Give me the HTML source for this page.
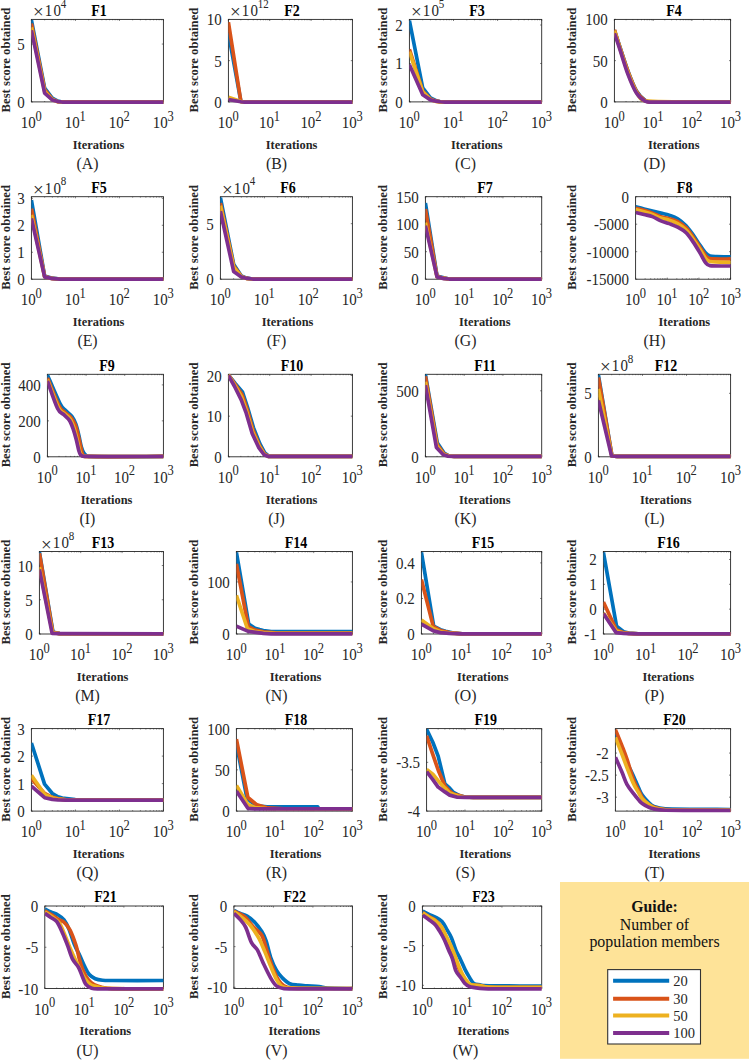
<!DOCTYPE html>
<html><head><meta charset="utf-8"><style>
html,body{margin:0;padding:0;background:#fff;width:749px;height:1060px;overflow:hidden}
svg{display:block}
text{font-family:"Liberation Serif",serif}
.tk{font-size:15px;fill:#262626}
.sup{font-size:12.5px;fill:#262626}
.tx{font-size:19px;fill:#262626}
.sup2{font-size:11px;fill:#262626}
.ttl{font-size:14px;font-weight:bold;fill:#000}
.xl{font-size:12.4px;font-weight:bold;fill:#262626}
.yl{font-size:12.7px;font-weight:bold;fill:#262626}
.pl{font-size:15.8px;fill:#262626}
.gt{font-size:15.8px;font-weight:bold;fill:#111}
.gs{font-size:15.9px;fill:#111}
.lg{font-size:14.5px;fill:#262626}
</style></head><body>
<svg width="749" height="1060" viewBox="0 0 749 1060">
<rect width="749" height="1060" fill="#fff"/>
<g>
<clipPath id="c0"><rect x="31.40" y="16.40" width="132.50" height="88.50"/></clipPath>
<path d="M31.40,101.90v-1.6M31.40,19.40v1.6M44.65,101.90v-0.9M44.65,19.40v0.9M52.39,101.90v-0.9M52.39,19.40v0.9M57.89,101.90v-0.9M57.89,19.40v0.9M62.15,101.90v-0.9M62.15,19.40v0.9M65.64,101.90v-0.9M65.64,19.40v0.9M68.58,101.90v-0.9M68.58,19.40v0.9M71.14,101.90v-0.9M71.14,19.40v0.9M73.39,101.90v-0.9M73.39,19.40v0.9M75.40,101.90v-1.6M75.40,19.40v1.6M88.65,101.90v-0.9M88.65,19.40v0.9M96.39,101.90v-0.9M96.39,19.40v0.9M101.89,101.90v-0.9M101.89,19.40v0.9M106.15,101.90v-0.9M106.15,19.40v0.9M109.64,101.90v-0.9M109.64,19.40v0.9M112.58,101.90v-0.9M112.58,19.40v0.9M115.14,101.90v-0.9M115.14,19.40v0.9M117.39,101.90v-0.9M117.39,19.40v0.9M119.40,101.90v-1.6M119.40,19.40v1.6M132.65,101.90v-0.9M132.65,19.40v0.9M140.39,101.90v-0.9M140.39,19.40v0.9M145.89,101.90v-0.9M145.89,19.40v0.9M150.15,101.90v-0.9M150.15,19.40v0.9M153.64,101.90v-0.9M153.64,19.40v0.9M156.58,101.90v-0.9M156.58,19.40v0.9M159.14,101.90v-0.9M159.14,19.40v0.9M161.39,101.90v-0.9M161.39,19.40v0.9M163.40,101.90v-1.6M163.40,19.40v1.6M31.40,101.90h1.6M163.40,101.90h-1.6M31.40,44.05h1.6M163.40,44.05h-1.6" stroke="#262626" stroke-width="0.6" fill="none"/>
<rect x="31.40" y="19.40" width="132.00" height="82.50" fill="none" stroke="#262626" stroke-width="0.9"/>
<g clip-path="url(#c0)" fill="none" stroke-width="3.7" stroke-linejoin="round" stroke-linecap="butt">
<path d="M31.40,20.09L44.64,88.02L52.28,98.21L57.80,101.18L62.30,102.03L163.40,102.03" stroke="#0072BD"/>
<path d="M31.40,23.49L44.64,89.72L52.28,99.06L57.80,101.60L163.40,102.03" stroke="#D95319"/>
<path d="M31.40,27.31L44.64,91.42L52.28,99.48L57.80,101.77L163.40,102.03" stroke="#EDB120"/>
<path d="M31.40,30.28L44.64,93.11L52.28,99.91L57.80,101.60L62.30,102.03L163.40,102.03" stroke="#7E2F8E"/>
</g>
<text class="tk" transform="translate(24.80,107.90) scale(1,1.1)" text-anchor="end">0</text>
<text class="tk" transform="translate(24.80,50.05) scale(1,1.1)" text-anchor="end">5</text>
<text class="tk" transform="translate(28.20,127.90) scale(1,1.1)" text-anchor="middle">10</text><text class="sup" transform="translate(38.60,120.50) scale(1,1.1)" text-anchor="middle">0</text>
<text class="tk" transform="translate(72.20,127.90) scale(1,1.1)" text-anchor="middle">10</text><text class="sup" transform="translate(82.60,120.50) scale(1,1.1)" text-anchor="middle">1</text>
<text class="tk" transform="translate(116.20,127.90) scale(1,1.1)" text-anchor="middle">10</text><text class="sup" transform="translate(126.60,120.50) scale(1,1.1)" text-anchor="middle">2</text>
<text class="tk" transform="translate(160.20,127.90) scale(1,1.1)" text-anchor="middle">10</text><text class="sup" transform="translate(170.60,120.50) scale(1,1.1)" text-anchor="middle">3</text>
<text class="tx" transform="translate(32.90,18.40) scale(1,0.95)">×</text><text class="tk" transform="translate(44.80,16.20) scale(1,1.1)" letter-spacing="1.2">10</text><text class="sup2" transform="translate(60.70,7.70) scale(1,1.1)">4</text>
<text class="ttl" transform="translate(98.90,15.60) scale(1,1.2)" text-anchor="middle">F1</text>
<text class="xl" transform="translate(98.60,148.70) scale(1,1.05)" text-anchor="middle">Iterations</text>
<text class="yl" transform="translate(9.90,60.05) rotate(-90)" text-anchor="middle">Best score obtained</text>
<text class="pl" x="87.50" y="169.10" text-anchor="middle">(A)</text>
</g>
<g>
<clipPath id="c1"><rect x="228.40" y="16.40" width="124.50" height="88.50"/></clipPath>
<path d="M228.40,101.90v-1.6M228.40,19.40v1.6M240.84,101.90v-0.9M240.84,19.40v0.9M248.12,101.90v-0.9M248.12,19.40v0.9M253.29,101.90v-0.9M253.29,19.40v0.9M257.29,101.90v-0.9M257.29,19.40v0.9M260.56,101.90v-0.9M260.56,19.40v0.9M263.33,101.90v-0.9M263.33,19.40v0.9M265.73,101.90v-0.9M265.73,19.40v0.9M267.84,101.90v-0.9M267.84,19.40v0.9M269.73,101.90v-1.6M269.73,19.40v1.6M282.18,101.90v-0.9M282.18,19.40v0.9M289.45,101.90v-0.9M289.45,19.40v0.9M294.62,101.90v-0.9M294.62,19.40v0.9M298.62,101.90v-0.9M298.62,19.40v0.9M301.90,101.90v-0.9M301.90,19.40v0.9M304.66,101.90v-0.9M304.66,19.40v0.9M307.06,101.90v-0.9M307.06,19.40v0.9M309.18,101.90v-0.9M309.18,19.40v0.9M311.07,101.90v-1.6M311.07,19.40v1.6M323.51,101.90v-0.9M323.51,19.40v0.9M330.79,101.90v-0.9M330.79,19.40v0.9M335.95,101.90v-0.9M335.95,19.40v0.9M339.96,101.90v-0.9M339.96,19.40v0.9M343.23,101.90v-0.9M343.23,19.40v0.9M346.00,101.90v-0.9M346.00,19.40v0.9M348.39,101.90v-0.9M348.39,19.40v0.9M350.51,101.90v-0.9M350.51,19.40v0.9M352.40,101.90v-1.6M352.40,19.40v1.6M228.40,101.90h1.6M352.40,101.90h-1.6M228.40,60.65h1.6M352.40,60.65h-1.6M228.40,19.40h1.6M352.40,19.40h-1.6" stroke="#262626" stroke-width="0.6" fill="none"/>
<rect x="228.40" y="19.40" width="124.00" height="82.50" fill="none" stroke="#262626" stroke-width="0.9"/>
<g clip-path="url(#c1)" fill="none" stroke-width="3.7" stroke-linejoin="round" stroke-linecap="butt">
<path d="M228.40,33.25L240.88,101.43L244.53,102.03L352.40,102.03" stroke="#0072BD"/>
<path d="M228.40,22.22L240.88,101.43L244.53,102.03L352.40,102.03" stroke="#D95319"/>
<path d="M228.40,97.36L240.88,101.60L244.53,102.03L352.40,102.03" stroke="#EDB120"/>
<path d="M228.40,99.48L240.88,101.77L244.53,102.03L352.40,102.03" stroke="#7E2F8E"/>
</g>
<text class="tk" transform="translate(221.80,107.90) scale(1,1.1)" text-anchor="end">0</text>
<text class="tk" transform="translate(221.80,66.65) scale(1,1.1)" text-anchor="end">5</text>
<text class="tk" transform="translate(221.80,25.40) scale(1,1.1)" text-anchor="end">10</text>
<text class="tk" transform="translate(225.20,127.90) scale(1,1.1)" text-anchor="middle">10</text><text class="sup" transform="translate(235.60,120.50) scale(1,1.1)" text-anchor="middle">0</text>
<text class="tk" transform="translate(266.53,127.90) scale(1,1.1)" text-anchor="middle">10</text><text class="sup" transform="translate(276.93,120.50) scale(1,1.1)" text-anchor="middle">1</text>
<text class="tk" transform="translate(307.87,127.90) scale(1,1.1)" text-anchor="middle">10</text><text class="sup" transform="translate(318.27,120.50) scale(1,1.1)" text-anchor="middle">2</text>
<text class="tk" transform="translate(349.20,127.90) scale(1,1.1)" text-anchor="middle">10</text><text class="sup" transform="translate(359.60,120.50) scale(1,1.1)" text-anchor="middle">3</text>
<text class="tx" transform="translate(229.90,18.40) scale(1,0.95)">×</text><text class="tk" transform="translate(241.80,16.20) scale(1,1.1)" letter-spacing="1.2">10</text><text class="sup2" transform="translate(257.70,7.70) scale(1,1.1)">12</text>
<text class="ttl" transform="translate(291.90,15.60) scale(1,1.2)" text-anchor="middle">F2</text>
<text class="xl" transform="translate(291.60,148.70) scale(1,1.05)" text-anchor="middle">Iterations</text>
<text class="yl" transform="translate(198.40,60.05) rotate(-90)" text-anchor="middle">Best score obtained</text>
<text class="pl" x="276.50" y="169.10" text-anchor="middle">(B)</text>
</g>
<g>
<clipPath id="c2"><rect x="409.40" y="16.40" width="132.80" height="88.50"/></clipPath>
<path d="M409.40,101.90v-1.6M409.40,19.40v1.6M422.68,101.90v-0.9M422.68,19.40v0.9M430.44,101.90v-0.9M430.44,19.40v0.9M435.95,101.90v-0.9M435.95,19.40v0.9M440.22,101.90v-0.9M440.22,19.40v0.9M443.72,101.90v-0.9M443.72,19.40v0.9M446.67,101.90v-0.9M446.67,19.40v0.9M449.23,101.90v-0.9M449.23,19.40v0.9M451.48,101.90v-0.9M451.48,19.40v0.9M453.50,101.90v-1.6M453.50,19.40v1.6M466.78,101.90v-0.9M466.78,19.40v0.9M474.54,101.90v-0.9M474.54,19.40v0.9M480.05,101.90v-0.9M480.05,19.40v0.9M484.32,101.90v-0.9M484.32,19.40v0.9M487.82,101.90v-0.9M487.82,19.40v0.9M490.77,101.90v-0.9M490.77,19.40v0.9M493.33,101.90v-0.9M493.33,19.40v0.9M495.58,101.90v-0.9M495.58,19.40v0.9M497.60,101.90v-1.6M497.60,19.40v1.6M510.88,101.90v-0.9M510.88,19.40v0.9M518.64,101.90v-0.9M518.64,19.40v0.9M524.15,101.90v-0.9M524.15,19.40v0.9M528.42,101.90v-0.9M528.42,19.40v0.9M531.92,101.90v-0.9M531.92,19.40v0.9M534.87,101.90v-0.9M534.87,19.40v0.9M537.43,101.90v-0.9M537.43,19.40v0.9M539.68,101.90v-0.9M539.68,19.40v0.9M541.70,101.90v-1.6M541.70,19.40v1.6M409.40,101.90h1.6M541.70,101.90h-1.6M409.40,63.46h1.6M541.70,63.46h-1.6M409.40,25.01h1.6M541.70,25.01h-1.6" stroke="#262626" stroke-width="0.6" fill="none"/>
<rect x="409.40" y="19.40" width="132.30" height="82.50" fill="none" stroke="#262626" stroke-width="0.9"/>
<g clip-path="url(#c2)" fill="none" stroke-width="3.7" stroke-linejoin="round" stroke-linecap="butt">
<path d="M409.40,20.52L422.73,88.02L430.45,97.78L436.06,100.75L440.30,101.77L445.06,102.03L541.70,102.03" stroke="#0072BD"/>
<path d="M409.40,49.39L422.73,91.42L430.45,99.06L436.06,101.18L440.30,101.86L445.06,102.03L541.70,102.03" stroke="#D95319"/>
<path d="M409.40,51.51L422.73,91.84L430.45,99.48L436.06,101.43L440.30,101.86L445.06,102.03L541.70,102.03" stroke="#EDB120"/>
<path d="M409.40,64.67L422.73,94.81L430.45,99.91L436.06,101.18L440.30,101.77L445.06,102.03L541.70,102.03" stroke="#7E2F8E"/>
</g>
<text class="tk" transform="translate(402.80,107.90) scale(1,1.1)" text-anchor="end">0</text>
<text class="tk" transform="translate(402.80,69.46) scale(1,1.1)" text-anchor="end">1</text>
<text class="tk" transform="translate(402.80,31.01) scale(1,1.1)" text-anchor="end">2</text>
<text class="tk" transform="translate(406.20,127.90) scale(1,1.1)" text-anchor="middle">10</text><text class="sup" transform="translate(416.60,120.50) scale(1,1.1)" text-anchor="middle">0</text>
<text class="tk" transform="translate(450.30,127.90) scale(1,1.1)" text-anchor="middle">10</text><text class="sup" transform="translate(460.70,120.50) scale(1,1.1)" text-anchor="middle">1</text>
<text class="tk" transform="translate(494.40,127.90) scale(1,1.1)" text-anchor="middle">10</text><text class="sup" transform="translate(504.80,120.50) scale(1,1.1)" text-anchor="middle">2</text>
<text class="tk" transform="translate(538.50,127.90) scale(1,1.1)" text-anchor="middle">10</text><text class="sup" transform="translate(548.90,120.50) scale(1,1.1)" text-anchor="middle">3</text>
<text class="tx" transform="translate(410.90,18.40) scale(1,0.95)">×</text><text class="tk" transform="translate(422.80,16.20) scale(1,1.1)" letter-spacing="1.2">10</text><text class="sup2" transform="translate(438.70,7.70) scale(1,1.1)">5</text>
<text class="ttl" transform="translate(477.05,15.60) scale(1,1.2)" text-anchor="middle">F3</text>
<text class="xl" transform="translate(476.75,148.70) scale(1,1.05)" text-anchor="middle">Iterations</text>
<text class="yl" transform="translate(387.40,60.05) rotate(-90)" text-anchor="middle">Best score obtained</text>
<text class="pl" x="465.50" y="169.10" text-anchor="middle">(C)</text>
</g>
<g>
<clipPath id="c3"><rect x="614.40" y="16.40" width="116.70" height="88.50"/></clipPath>
<path d="M614.40,101.90v-1.6M614.40,19.40v1.6M626.06,101.90v-0.9M626.06,19.40v0.9M632.88,101.90v-0.9M632.88,19.40v0.9M637.72,101.90v-0.9M637.72,19.40v0.9M641.47,101.90v-0.9M641.47,19.40v0.9M644.54,101.90v-0.9M644.54,19.40v0.9M647.13,101.90v-0.9M647.13,19.40v0.9M649.38,101.90v-0.9M649.38,19.40v0.9M651.36,101.90v-0.9M651.36,19.40v0.9M653.13,101.90v-1.6M653.13,19.40v1.6M664.79,101.90v-0.9M664.79,19.40v0.9M671.61,101.90v-0.9M671.61,19.40v0.9M676.45,101.90v-0.9M676.45,19.40v0.9M680.21,101.90v-0.9M680.21,19.40v0.9M683.27,101.90v-0.9M683.27,19.40v0.9M685.87,101.90v-0.9M685.87,19.40v0.9M688.11,101.90v-0.9M688.11,19.40v0.9M690.09,101.90v-0.9M690.09,19.40v0.9M691.87,101.90v-1.6M691.87,19.40v1.6M703.53,101.90v-0.9M703.53,19.40v0.9M710.35,101.90v-0.9M710.35,19.40v0.9M715.19,101.90v-0.9M715.19,19.40v0.9M718.94,101.90v-0.9M718.94,19.40v0.9M722.01,101.90v-0.9M722.01,19.40v0.9M724.60,101.90v-0.9M724.60,19.40v0.9M726.85,101.90v-0.9M726.85,19.40v0.9M728.83,101.90v-0.9M728.83,19.40v0.9M730.60,101.90v-1.6M730.60,19.40v1.6M614.40,101.90h1.6M730.60,101.90h-1.6M614.40,60.65h1.6M730.60,60.65h-1.6M614.40,19.40h1.6M730.60,19.40h-1.6" stroke="#262626" stroke-width="0.6" fill="none"/>
<rect x="614.40" y="19.40" width="116.20" height="82.50" fill="none" stroke="#262626" stroke-width="0.9"/>
<g clip-path="url(#c3)" fill="none" stroke-width="3.7" stroke-linejoin="round" stroke-linecap="butt">
<path d="M614.40,30.28C615.25,32.83 617.23,38.77 619.49,45.57C621.75,52.36 625.15,63.47 627.98,71.04C630.81,78.61 633.64,86.11 636.47,90.99C639.30,95.87 642.56,98.49 644.96,100.33C647.37,102.17 647.93,101.97 650.91,102.03C665.18,102.31 717.32,102.03 730.60,102.03" stroke="#0072BD"/>
<path d="M614.40,29.86C615.25,32.55 617.23,39.06 619.49,45.99C621.75,52.92 625.15,63.89 627.98,71.46C630.81,79.03 633.64,86.56 636.47,91.42C639.30,96.27 642.56,98.82 644.96,100.58C647.37,102.35 647.93,101.98 650.91,102.03C665.18,102.27 717.32,102.03 730.60,102.03" stroke="#D95319"/>
<path d="M614.40,30.71C615.25,33.40 617.23,39.83 619.49,46.84C621.75,53.84 625.15,65.17 627.98,72.74C630.81,80.31 633.64,87.57 636.47,92.26C639.30,96.96 640.72,100.48 644.96,100.92C660.65,102.55 716.33,101.84 730.60,102.03" stroke="#EDB120"/>
<path d="M614.40,33.25C615.25,35.73 617.23,41.25 619.49,48.11C621.75,54.98 625.15,66.93 627.98,74.43C630.81,81.93 633.64,88.66 636.47,93.11C639.30,97.57 642.13,99.69 644.96,101.18C647.79,102.67 649.21,101.99 653.45,102.03C667.73,102.17 717.74,102.03 730.60,102.03" stroke="#7E2F8E"/>
</g>
<text class="tk" transform="translate(607.80,107.90) scale(1,1.1)" text-anchor="end">0</text>
<text class="tk" transform="translate(607.80,66.65) scale(1,1.1)" text-anchor="end">50</text>
<text class="tk" transform="translate(607.80,25.40) scale(1,1.1)" text-anchor="end">100</text>
<text class="tk" transform="translate(611.20,127.90) scale(1,1.1)" text-anchor="middle">10</text><text class="sup" transform="translate(621.60,120.50) scale(1,1.1)" text-anchor="middle">0</text>
<text class="tk" transform="translate(649.93,127.90) scale(1,1.1)" text-anchor="middle">10</text><text class="sup" transform="translate(660.33,120.50) scale(1,1.1)" text-anchor="middle">1</text>
<text class="tk" transform="translate(688.67,127.90) scale(1,1.1)" text-anchor="middle">10</text><text class="sup" transform="translate(699.07,120.50) scale(1,1.1)" text-anchor="middle">2</text>
<text class="tk" transform="translate(727.40,127.90) scale(1,1.1)" text-anchor="middle">10</text><text class="sup" transform="translate(737.80,120.50) scale(1,1.1)" text-anchor="middle">3</text>
<text class="ttl" transform="translate(674.00,15.60) scale(1,1.2)" text-anchor="middle">F4</text>
<text class="xl" transform="translate(673.70,148.70) scale(1,1.05)" text-anchor="middle">Iterations</text>
<text class="yl" transform="translate(576.40,60.05) rotate(-90)" text-anchor="middle">Best score obtained</text>
<text class="pl" x="654.50" y="169.10" text-anchor="middle">(D)</text>
</g>
<g>
<clipPath id="c4"><rect x="31.40" y="193.70" width="132.50" height="88.50"/></clipPath>
<path d="M31.40,279.20v-1.6M31.40,196.70v1.6M44.65,279.20v-0.9M44.65,196.70v0.9M52.39,279.20v-0.9M52.39,196.70v0.9M57.89,279.20v-0.9M57.89,196.70v0.9M62.15,279.20v-0.9M62.15,196.70v0.9M65.64,279.20v-0.9M65.64,196.70v0.9M68.58,279.20v-0.9M68.58,196.70v0.9M71.14,279.20v-0.9M71.14,196.70v0.9M73.39,279.20v-0.9M73.39,196.70v0.9M75.40,279.20v-1.6M75.40,196.70v1.6M88.65,279.20v-0.9M88.65,196.70v0.9M96.39,279.20v-0.9M96.39,196.70v0.9M101.89,279.20v-0.9M101.89,196.70v0.9M106.15,279.20v-0.9M106.15,196.70v0.9M109.64,279.20v-0.9M109.64,196.70v0.9M112.58,279.20v-0.9M112.58,196.70v0.9M115.14,279.20v-0.9M115.14,196.70v0.9M117.39,279.20v-0.9M117.39,196.70v0.9M119.40,279.20v-1.6M119.40,196.70v1.6M132.65,279.20v-0.9M132.65,196.70v0.9M140.39,279.20v-0.9M140.39,196.70v0.9M145.89,279.20v-0.9M145.89,196.70v0.9M150.15,279.20v-0.9M150.15,196.70v0.9M153.64,279.20v-0.9M153.64,196.70v0.9M156.58,279.20v-0.9M156.58,196.70v0.9M159.14,279.20v-0.9M159.14,196.70v0.9M161.39,279.20v-0.9M161.39,196.70v0.9M163.40,279.20v-1.6M163.40,196.70v1.6M31.40,279.20h1.6M163.40,279.20h-1.6M31.40,252.24h1.6M163.40,252.24h-1.6M31.40,225.28h1.6M163.40,225.28h-1.6M31.40,198.32h1.6M163.40,198.32h-1.6" stroke="#262626" stroke-width="0.6" fill="none"/>
<rect x="31.40" y="196.70" width="132.00" height="82.50" fill="none" stroke="#262626" stroke-width="0.9"/>
<g clip-path="url(#c4)" fill="none" stroke-width="3.7" stroke-linejoin="round" stroke-linecap="butt">
<path d="M31.40,200.07L44.64,276.06L52.37,278.18L60.26,279.03L163.40,279.03" stroke="#0072BD"/>
<path d="M31.40,208.56L44.64,276.48L52.37,278.43L60.26,279.03L163.40,279.03" stroke="#D95319"/>
<path d="M31.40,214.92L44.64,276.74L52.37,278.60L60.26,279.03L163.40,279.03" stroke="#EDB120"/>
<path d="M31.40,218.32L44.64,276.91L52.37,278.60L60.26,279.03L163.40,279.03" stroke="#7E2F8E"/>
</g>
<text class="tk" transform="translate(24.80,285.20) scale(1,1.1)" text-anchor="end">0</text>
<text class="tk" transform="translate(24.80,258.24) scale(1,1.1)" text-anchor="end">1</text>
<text class="tk" transform="translate(24.80,231.28) scale(1,1.1)" text-anchor="end">2</text>
<text class="tk" transform="translate(24.80,204.32) scale(1,1.1)" text-anchor="end">3</text>
<text class="tk" transform="translate(28.20,305.20) scale(1,1.1)" text-anchor="middle">10</text><text class="sup" transform="translate(38.60,297.80) scale(1,1.1)" text-anchor="middle">0</text>
<text class="tk" transform="translate(72.20,305.20) scale(1,1.1)" text-anchor="middle">10</text><text class="sup" transform="translate(82.60,297.80) scale(1,1.1)" text-anchor="middle">1</text>
<text class="tk" transform="translate(116.20,305.20) scale(1,1.1)" text-anchor="middle">10</text><text class="sup" transform="translate(126.60,297.80) scale(1,1.1)" text-anchor="middle">2</text>
<text class="tk" transform="translate(160.20,305.20) scale(1,1.1)" text-anchor="middle">10</text><text class="sup" transform="translate(170.60,297.80) scale(1,1.1)" text-anchor="middle">3</text>
<text class="tx" transform="translate(32.90,195.70) scale(1,0.95)">×</text><text class="tk" transform="translate(44.80,193.50) scale(1,1.1)" letter-spacing="1.2">10</text><text class="sup2" transform="translate(60.70,185.00) scale(1,1.1)">8</text>
<text class="ttl" transform="translate(98.90,192.90) scale(1,1.2)" text-anchor="middle">F5</text>
<text class="xl" transform="translate(98.60,326.00) scale(1,1.05)" text-anchor="middle">Iterations</text>
<text class="yl" transform="translate(9.90,237.35) rotate(-90)" text-anchor="middle">Best score obtained</text>
<text class="pl" x="87.50" y="346.40" text-anchor="middle">(E)</text>
</g>
<g>
<clipPath id="c5"><rect x="220.40" y="193.70" width="132.50" height="88.50"/></clipPath>
<path d="M220.40,279.20v-1.6M220.40,196.70v1.6M233.65,279.20v-0.9M233.65,196.70v0.9M241.39,279.20v-0.9M241.39,196.70v0.9M246.89,279.20v-0.9M246.89,196.70v0.9M251.15,279.20v-0.9M251.15,196.70v0.9M254.64,279.20v-0.9M254.64,196.70v0.9M257.58,279.20v-0.9M257.58,196.70v0.9M260.14,279.20v-0.9M260.14,196.70v0.9M262.39,279.20v-0.9M262.39,196.70v0.9M264.40,279.20v-1.6M264.40,196.70v1.6M277.65,279.20v-0.9M277.65,196.70v0.9M285.39,279.20v-0.9M285.39,196.70v0.9M290.89,279.20v-0.9M290.89,196.70v0.9M295.15,279.20v-0.9M295.15,196.70v0.9M298.64,279.20v-0.9M298.64,196.70v0.9M301.58,279.20v-0.9M301.58,196.70v0.9M304.14,279.20v-0.9M304.14,196.70v0.9M306.39,279.20v-0.9M306.39,196.70v0.9M308.40,279.20v-1.6M308.40,196.70v1.6M321.65,279.20v-0.9M321.65,196.70v0.9M329.39,279.20v-0.9M329.39,196.70v0.9M334.89,279.20v-0.9M334.89,196.70v0.9M339.15,279.20v-0.9M339.15,196.70v0.9M342.64,279.20v-0.9M342.64,196.70v0.9M345.58,279.20v-0.9M345.58,196.70v0.9M348.14,279.20v-0.9M348.14,196.70v0.9M350.39,279.20v-0.9M350.39,196.70v0.9M352.40,279.20v-1.6M352.40,196.70v1.6M220.40,279.20h1.6M352.40,279.20h-1.6M220.40,223.68h1.6M352.40,223.68h-1.6" stroke="#262626" stroke-width="0.6" fill="none"/>
<rect x="220.40" y="196.70" width="132.00" height="82.50" fill="none" stroke="#262626" stroke-width="0.9"/>
<g clip-path="url(#c5)" fill="none" stroke-width="3.7" stroke-linejoin="round" stroke-linecap="butt">
<path d="M220.40,197.52L233.64,264.17L241.37,276.06L246.89,278.18L252.66,279.03L352.40,279.03" stroke="#0072BD"/>
<path d="M220.40,203.04L233.64,265.87L241.37,276.48L246.89,278.43L252.66,279.03L352.40,279.03" stroke="#D95319"/>
<path d="M220.40,205.58L233.64,267.14L241.37,276.74L246.89,278.60L252.66,279.03L352.40,279.03" stroke="#EDB120"/>
<path d="M220.40,211.10L233.64,271.39L241.37,276.91L246.89,278.43L252.66,279.03L352.40,279.03" stroke="#7E2F8E"/>
</g>
<text class="tk" transform="translate(213.80,285.20) scale(1,1.1)" text-anchor="end">0</text>
<text class="tk" transform="translate(213.80,229.68) scale(1,1.1)" text-anchor="end">5</text>
<text class="tk" transform="translate(217.20,305.20) scale(1,1.1)" text-anchor="middle">10</text><text class="sup" transform="translate(227.60,297.80) scale(1,1.1)" text-anchor="middle">0</text>
<text class="tk" transform="translate(261.20,305.20) scale(1,1.1)" text-anchor="middle">10</text><text class="sup" transform="translate(271.60,297.80) scale(1,1.1)" text-anchor="middle">1</text>
<text class="tk" transform="translate(305.20,305.20) scale(1,1.1)" text-anchor="middle">10</text><text class="sup" transform="translate(315.60,297.80) scale(1,1.1)" text-anchor="middle">2</text>
<text class="tk" transform="translate(349.20,305.20) scale(1,1.1)" text-anchor="middle">10</text><text class="sup" transform="translate(359.60,297.80) scale(1,1.1)" text-anchor="middle">3</text>
<text class="tx" transform="translate(221.90,195.70) scale(1,0.95)">×</text><text class="tk" transform="translate(233.80,193.50) scale(1,1.1)" letter-spacing="1.2">10</text><text class="sup2" transform="translate(249.70,185.00) scale(1,1.1)">4</text>
<text class="ttl" transform="translate(287.90,192.90) scale(1,1.2)" text-anchor="middle">F6</text>
<text class="xl" transform="translate(287.60,326.00) scale(1,1.05)" text-anchor="middle">Iterations</text>
<text class="yl" transform="translate(198.40,237.35) rotate(-90)" text-anchor="middle">Best score obtained</text>
<text class="pl" x="276.50" y="346.40" text-anchor="middle">(F)</text>
</g>
<g>
<clipPath id="c6"><rect x="425.40" y="193.70" width="116.80" height="88.50"/></clipPath>
<path d="M425.40,279.20v-1.6M425.40,196.70v1.6M437.07,279.20v-0.9M437.07,196.70v0.9M443.90,279.20v-0.9M443.90,196.70v0.9M448.74,279.20v-0.9M448.74,196.70v0.9M452.50,279.20v-0.9M452.50,196.70v0.9M455.57,279.20v-0.9M455.57,196.70v0.9M458.16,279.20v-0.9M458.16,196.70v0.9M460.41,279.20v-0.9M460.41,196.70v0.9M462.39,279.20v-0.9M462.39,196.70v0.9M464.17,279.20v-1.6M464.17,196.70v1.6M475.84,279.20v-0.9M475.84,196.70v0.9M482.66,279.20v-0.9M482.66,196.70v0.9M487.51,279.20v-0.9M487.51,196.70v0.9M491.26,279.20v-0.9M491.26,196.70v0.9M494.33,279.20v-0.9M494.33,196.70v0.9M496.93,279.20v-0.9M496.93,196.70v0.9M499.18,279.20v-0.9M499.18,196.70v0.9M501.16,279.20v-0.9M501.16,196.70v0.9M502.93,279.20v-1.6M502.93,196.70v1.6M514.60,279.20v-0.9M514.60,196.70v0.9M521.43,279.20v-0.9M521.43,196.70v0.9M526.27,279.20v-0.9M526.27,196.70v0.9M530.03,279.20v-0.9M530.03,196.70v0.9M533.10,279.20v-0.9M533.10,196.70v0.9M535.69,279.20v-0.9M535.69,196.70v0.9M537.94,279.20v-0.9M537.94,196.70v0.9M539.93,279.20v-0.9M539.93,196.70v0.9M541.70,279.20v-1.6M541.70,196.70v1.6M425.40,279.20h1.6M541.70,279.20h-1.6M425.40,251.70h1.6M541.70,251.70h-1.6M425.40,224.20h1.6M541.70,224.20h-1.6M425.40,196.70h1.6M541.70,196.70h-1.6" stroke="#262626" stroke-width="0.6" fill="none"/>
<rect x="425.40" y="196.70" width="116.30" height="82.50" fill="none" stroke="#262626" stroke-width="0.9"/>
<g clip-path="url(#c6)" fill="none" stroke-width="3.7" stroke-linejoin="round" stroke-linecap="butt">
<path d="M425.40,203.04L437.03,276.06L443.91,277.75L449.17,279.03L541.70,279.03" stroke="#0072BD"/>
<path d="M425.40,208.98L437.03,276.48L443.91,278.18L449.17,279.03L541.70,279.03" stroke="#D95319"/>
<path d="M425.40,222.57L437.03,276.74L443.91,278.43L449.17,279.03L541.70,279.03" stroke="#EDB120"/>
<path d="M425.40,225.54L437.03,276.91L443.91,278.60L449.17,279.03L541.70,279.03" stroke="#7E2F8E"/>
</g>
<text class="tk" transform="translate(418.80,285.20) scale(1,1.1)" text-anchor="end">0</text>
<text class="tk" transform="translate(418.80,257.70) scale(1,1.1)" text-anchor="end">50</text>
<text class="tk" transform="translate(418.80,230.20) scale(1,1.1)" text-anchor="end">100</text>
<text class="tk" transform="translate(418.80,202.70) scale(1,1.1)" text-anchor="end">150</text>
<text class="tk" transform="translate(422.20,305.20) scale(1,1.1)" text-anchor="middle">10</text><text class="sup" transform="translate(432.60,297.80) scale(1,1.1)" text-anchor="middle">0</text>
<text class="tk" transform="translate(460.97,305.20) scale(1,1.1)" text-anchor="middle">10</text><text class="sup" transform="translate(471.37,297.80) scale(1,1.1)" text-anchor="middle">1</text>
<text class="tk" transform="translate(499.73,305.20) scale(1,1.1)" text-anchor="middle">10</text><text class="sup" transform="translate(510.13,297.80) scale(1,1.1)" text-anchor="middle">2</text>
<text class="tk" transform="translate(538.50,305.20) scale(1,1.1)" text-anchor="middle">10</text><text class="sup" transform="translate(548.90,297.80) scale(1,1.1)" text-anchor="middle">3</text>
<text class="ttl" transform="translate(485.05,192.90) scale(1,1.2)" text-anchor="middle">F7</text>
<text class="xl" transform="translate(484.75,326.00) scale(1,1.05)" text-anchor="middle">Iterations</text>
<text class="yl" transform="translate(387.40,237.35) rotate(-90)" text-anchor="middle">Best score obtained</text>
<text class="pl" x="465.50" y="346.40" text-anchor="middle">(G)</text>
</g>
<g>
<clipPath id="c7"><rect x="635.60" y="193.70" width="95.50" height="88.50"/></clipPath>
<path d="M635.60,279.20v-1.6M635.60,196.70v1.6M645.13,279.20v-0.9M645.13,196.70v0.9M650.71,279.20v-0.9M650.71,196.70v0.9M654.67,279.20v-0.9M654.67,196.70v0.9M657.73,279.20v-0.9M657.73,196.70v0.9M660.24,279.20v-0.9M660.24,196.70v0.9M662.36,279.20v-0.9M662.36,196.70v0.9M664.20,279.20v-0.9M664.20,196.70v0.9M665.82,279.20v-0.9M665.82,196.70v0.9M667.27,279.20v-1.6M667.27,196.70v1.6M676.80,279.20v-0.9M676.80,196.70v0.9M682.38,279.20v-0.9M682.38,196.70v0.9M686.33,279.20v-0.9M686.33,196.70v0.9M689.40,279.20v-0.9M689.40,196.70v0.9M691.91,279.20v-0.9M691.91,196.70v0.9M694.03,279.20v-0.9M694.03,196.70v0.9M695.86,279.20v-0.9M695.86,196.70v0.9M697.48,279.20v-0.9M697.48,196.70v0.9M698.93,279.20v-1.6M698.93,196.70v1.6M708.47,279.20v-0.9M708.47,196.70v0.9M714.04,279.20v-0.9M714.04,196.70v0.9M718.00,279.20v-0.9M718.00,196.70v0.9M721.07,279.20v-0.9M721.07,196.70v0.9M723.57,279.20v-0.9M723.57,196.70v0.9M725.69,279.20v-0.9M725.69,196.70v0.9M727.53,279.20v-0.9M727.53,196.70v0.9M729.15,279.20v-0.9M729.15,196.70v0.9M730.60,279.20v-1.6M730.60,196.70v1.6M635.60,196.70h1.6M730.60,196.70h-1.6M635.60,224.20h1.6M730.60,224.20h-1.6M635.60,251.70h1.6M730.60,251.70h-1.6M635.60,279.20h1.6M730.60,279.20h-1.6" stroke="#262626" stroke-width="0.6" fill="none"/>
<rect x="635.60" y="196.70" width="95.00" height="82.50" fill="none" stroke="#262626" stroke-width="0.9"/>
<g clip-path="url(#c7)" fill="none" stroke-width="3.7" stroke-linejoin="round" stroke-linecap="butt">
<path d="M635.61,206.82C637.01,207.17 641.21,208.22 644.02,208.93C646.82,209.63 649.63,210.33 652.43,211.03C655.23,211.73 658.04,212.43 660.84,213.13C663.64,213.83 666.45,214.30 669.25,215.23C672.06,216.17 674.86,216.99 677.66,218.74C680.47,220.49 683.50,223.06 686.07,225.75C688.64,228.43 690.75,231.59 693.08,234.86C695.42,238.13 697.99,242.34 700.09,245.37C702.20,248.41 704.07,251.33 705.70,253.08C707.34,254.84 708.04,255.30 709.91,255.89C711.78,256.47 713.47,256.43 716.92,256.59C720.36,256.75 728.32,256.82 730.60,256.87" stroke="#0072BD"/>
<path d="M635.61,208.22C637.01,208.57 641.21,209.51 644.02,210.33C646.82,211.14 649.63,212.08 652.43,213.13C655.23,214.18 658.04,215.70 660.84,216.64C663.64,217.57 666.45,217.92 669.25,218.74C672.06,219.56 674.86,220.02 677.66,221.54C680.47,223.06 683.50,225.28 686.07,227.85C688.64,230.42 690.75,233.69 693.08,236.96C695.42,240.23 697.99,244.32 700.09,247.48C702.20,250.63 704.07,254.02 705.70,255.89C707.34,257.76 707.80,258.43 709.91,258.69C714.06,259.21 727.15,258.93 730.60,258.97" stroke="#D95319"/>
<path d="M635.61,209.63C637.01,209.98 641.21,210.91 644.02,211.73C646.82,212.55 649.63,213.48 652.43,214.53C655.23,215.58 658.04,217.10 660.84,218.04C663.64,218.97 666.45,219.21 669.25,220.14C672.06,221.07 674.86,222.01 677.66,223.64C680.47,225.28 683.50,227.38 686.07,229.95C688.64,232.52 690.75,235.79 693.08,239.07C695.42,242.34 697.99,246.31 700.09,249.58C702.20,252.85 704.07,256.71 705.70,258.69C707.34,260.68 707.80,261.18 709.91,261.50C714.06,262.13 727.15,262.31 730.60,262.48" stroke="#EDB120"/>
<path d="M635.61,212.43C637.01,212.78 641.21,213.83 644.02,214.53C646.82,215.23 649.63,215.58 652.43,216.64C655.23,217.69 658.04,219.67 660.84,220.84C663.64,222.01 666.45,222.59 669.25,223.64C672.06,224.70 674.86,225.63 677.66,227.15C680.47,228.67 683.50,230.30 686.07,232.76C688.64,235.21 690.75,238.48 693.08,241.87C695.42,245.26 697.99,249.58 700.09,253.08C702.20,256.59 704.07,260.79 705.70,262.90C707.34,265.00 707.80,265.44 709.91,265.70C714.06,266.21 727.15,265.93 730.60,265.98" stroke="#7E2F8E"/>
</g>
<text class="tk" transform="translate(629.00,202.70) scale(1,1.1)" text-anchor="end">0</text>
<text class="tk" transform="translate(629.00,230.20) scale(1,1.1)" text-anchor="end">-5000</text>
<text class="tk" transform="translate(629.00,257.70) scale(1,1.1)" text-anchor="end">-10000</text>
<text class="tk" transform="translate(629.00,285.20) scale(1,1.1)" text-anchor="end">-15000</text>
<text class="tk" transform="translate(632.40,305.20) scale(1,1.1)" text-anchor="middle">10</text><text class="sup" transform="translate(642.80,297.80) scale(1,1.1)" text-anchor="middle">0</text>
<text class="tk" transform="translate(664.07,305.20) scale(1,1.1)" text-anchor="middle">10</text><text class="sup" transform="translate(674.47,297.80) scale(1,1.1)" text-anchor="middle">1</text>
<text class="tk" transform="translate(695.73,305.20) scale(1,1.1)" text-anchor="middle">10</text><text class="sup" transform="translate(706.13,297.80) scale(1,1.1)" text-anchor="middle">2</text>
<text class="tk" transform="translate(727.40,305.20) scale(1,1.1)" text-anchor="middle">10</text><text class="sup" transform="translate(737.80,297.80) scale(1,1.1)" text-anchor="middle">3</text>
<text class="ttl" transform="translate(684.60,192.90) scale(1,1.2)" text-anchor="middle">F8</text>
<text class="xl" transform="translate(684.30,326.00) scale(1,1.05)" text-anchor="middle">Iterations</text>
<text class="yl" transform="translate(576.40,237.35) rotate(-90)" text-anchor="middle">Best score obtained</text>
<text class="pl" x="654.50" y="346.40" text-anchor="middle">(H)</text>
</g>
<g>
<clipPath id="c8"><rect x="47.40" y="371.30" width="116.50" height="88.50"/></clipPath>
<path d="M47.40,456.80v-1.6M47.40,374.30v1.6M59.04,456.80v-0.9M59.04,374.30v0.9M65.85,456.80v-0.9M65.85,374.30v0.9M70.68,456.80v-0.9M70.68,374.30v0.9M74.43,456.80v-0.9M74.43,374.30v0.9M77.49,456.80v-0.9M77.49,374.30v0.9M80.08,456.80v-0.9M80.08,374.30v0.9M82.32,456.80v-0.9M82.32,374.30v0.9M84.30,456.80v-0.9M84.30,374.30v0.9M86.07,456.80v-1.6M86.07,374.30v1.6M97.71,456.80v-0.9M97.71,374.30v0.9M104.52,456.80v-0.9M104.52,374.30v0.9M109.35,456.80v-0.9M109.35,374.30v0.9M113.09,456.80v-0.9M113.09,374.30v0.9M116.16,456.80v-0.9M116.16,374.30v0.9M118.74,456.80v-0.9M118.74,374.30v0.9M120.99,456.80v-0.9M120.99,374.30v0.9M122.96,456.80v-0.9M122.96,374.30v0.9M124.73,456.80v-1.6M124.73,374.30v1.6M136.37,456.80v-0.9M136.37,374.30v0.9M143.18,456.80v-0.9M143.18,374.30v0.9M148.01,456.80v-0.9M148.01,374.30v0.9M151.76,456.80v-0.9M151.76,374.30v0.9M154.82,456.80v-0.9M154.82,374.30v0.9M157.41,456.80v-0.9M157.41,374.30v0.9M159.65,456.80v-0.9M159.65,374.30v0.9M161.63,456.80v-0.9M161.63,374.30v0.9M163.40,456.80v-1.6M163.40,374.30v1.6M47.40,456.80h1.6M163.40,456.80h-1.6M47.40,420.85h1.6M163.40,420.85h-1.6M47.40,384.90h1.6M163.40,384.90h-1.6" stroke="#262626" stroke-width="0.6" fill="none"/>
<rect x="47.40" y="374.30" width="116.00" height="82.50" fill="none" stroke="#262626" stroke-width="0.9"/>
<g clip-path="url(#c8)" fill="none" stroke-width="3.7" stroke-linejoin="round" stroke-linecap="butt">
<path d="M47.40,374.94C49.52,379.75 57.09,397.87 60.13,403.81C62.89,409.20 63.67,408.48 65.65,410.60C67.63,412.73 70.32,414.28 72.02,416.55C73.72,418.81 74.71,421.08 75.84,424.19C76.97,427.30 77.89,431.41 78.81,435.23C79.73,439.05 80.51,444.14 81.36,447.11C82.21,450.08 82.77,451.50 83.91,453.06C85.04,454.61 86.03,456.36 88.15,456.45C101.40,457.02 150.86,456.45 163.40,456.45" stroke="#0072BD"/>
<path d="M47.40,377.92C49.31,382.51 55.96,399.78 58.86,405.51C61.76,411.24 62.75,410.25 64.80,412.30C66.85,414.35 69.43,415.70 71.17,417.82C72.91,419.94 74.04,422.00 75.25,425.04C76.45,428.08 77.44,432.25 78.39,436.08C79.33,439.90 80.23,444.92 80.93,447.96C81.64,451.00 81.85,452.92 82.63,454.33C83.41,455.75 84.12,456.41 85.60,456.45C99.07,456.81 150.43,456.45 163.40,456.45" stroke="#D95319"/>
<path d="M47.40,379.61C49.21,384.21 55.46,401.55 58.26,407.21C61.07,412.87 62.23,411.59 64.21,413.58C66.19,415.56 68.50,416.62 70.15,419.09C71.81,421.57 72.98,425.04 74.14,428.43C75.30,431.83 76.19,435.79 77.11,439.47C78.03,443.15 78.95,447.93 79.66,450.51C80.37,453.08 80.51,453.93 81.36,454.92C82.21,455.92 83.06,456.42 84.75,456.45C98.43,456.71 150.29,456.45 163.40,456.45" stroke="#EDB120"/>
<path d="M47.40,380.89C49.09,385.49 54.90,402.89 57.58,408.48C60.27,414.07 61.55,412.44 63.53,414.42C65.51,416.41 67.84,417.89 69.47,420.37C71.10,422.84 72.16,426.10 73.29,429.28C74.42,432.47 75.34,435.93 76.26,439.47C77.18,443.01 78.10,447.96 78.81,450.51C79.52,453.06 79.66,453.76 80.51,454.75C81.36,455.75 82.21,456.42 83.91,456.45C97.72,456.74 150.15,456.45 163.40,456.45" stroke="#7E2F8E"/>
</g>
<text class="tk" transform="translate(40.80,462.80) scale(1,1.1)" text-anchor="end">0</text>
<text class="tk" transform="translate(40.80,426.85) scale(1,1.1)" text-anchor="end">200</text>
<text class="tk" transform="translate(40.80,390.90) scale(1,1.1)" text-anchor="end">400</text>
<text class="tk" transform="translate(44.20,482.80) scale(1,1.1)" text-anchor="middle">10</text><text class="sup" transform="translate(54.60,475.40) scale(1,1.1)" text-anchor="middle">0</text>
<text class="tk" transform="translate(82.87,482.80) scale(1,1.1)" text-anchor="middle">10</text><text class="sup" transform="translate(93.27,475.40) scale(1,1.1)" text-anchor="middle">1</text>
<text class="tk" transform="translate(121.53,482.80) scale(1,1.1)" text-anchor="middle">10</text><text class="sup" transform="translate(131.93,475.40) scale(1,1.1)" text-anchor="middle">2</text>
<text class="tk" transform="translate(160.20,482.80) scale(1,1.1)" text-anchor="middle">10</text><text class="sup" transform="translate(170.60,475.40) scale(1,1.1)" text-anchor="middle">3</text>
<text class="ttl" transform="translate(106.90,370.50) scale(1,1.2)" text-anchor="middle">F9</text>
<text class="xl" transform="translate(106.60,503.60) scale(1,1.05)" text-anchor="middle">Iterations</text>
<text class="yl" transform="translate(9.90,414.95) rotate(-90)" text-anchor="middle">Best score obtained</text>
<text class="pl" x="87.50" y="524.00" text-anchor="middle">(I)</text>
</g>
<g>
<clipPath id="c9"><rect x="228.40" y="371.30" width="124.50" height="88.50"/></clipPath>
<path d="M228.40,456.80v-1.6M228.40,374.30v1.6M240.84,456.80v-0.9M240.84,374.30v0.9M248.12,456.80v-0.9M248.12,374.30v0.9M253.29,456.80v-0.9M253.29,374.30v0.9M257.29,456.80v-0.9M257.29,374.30v0.9M260.56,456.80v-0.9M260.56,374.30v0.9M263.33,456.80v-0.9M263.33,374.30v0.9M265.73,456.80v-0.9M265.73,374.30v0.9M267.84,456.80v-0.9M267.84,374.30v0.9M269.73,456.80v-1.6M269.73,374.30v1.6M282.18,456.80v-0.9M282.18,374.30v0.9M289.45,456.80v-0.9M289.45,374.30v0.9M294.62,456.80v-0.9M294.62,374.30v0.9M298.62,456.80v-0.9M298.62,374.30v0.9M301.90,456.80v-0.9M301.90,374.30v0.9M304.66,456.80v-0.9M304.66,374.30v0.9M307.06,456.80v-0.9M307.06,374.30v0.9M309.18,456.80v-0.9M309.18,374.30v0.9M311.07,456.80v-1.6M311.07,374.30v1.6M323.51,456.80v-0.9M323.51,374.30v0.9M330.79,456.80v-0.9M330.79,374.30v0.9M335.95,456.80v-0.9M335.95,374.30v0.9M339.96,456.80v-0.9M339.96,374.30v0.9M343.23,456.80v-0.9M343.23,374.30v0.9M346.00,456.80v-0.9M346.00,374.30v0.9M348.39,456.80v-0.9M348.39,374.30v0.9M350.51,456.80v-0.9M350.51,374.30v0.9M352.40,456.80v-1.6M352.40,374.30v1.6M228.40,456.80h1.6M352.40,456.80h-1.6M228.40,416.16h1.6M352.40,416.16h-1.6M228.40,375.52h1.6M352.40,375.52h-1.6" stroke="#262626" stroke-width="0.6" fill="none"/>
<rect x="228.40" y="374.30" width="124.00" height="82.50" fill="none" stroke="#262626" stroke-width="0.9"/>
<g clip-path="url(#c9)" fill="none" stroke-width="3.7" stroke-linejoin="round" stroke-linecap="butt">
<path d="M228.40,374.94L235.19,383.43L242.41,391.92L247.50,407.21L253.44,427.58L259.81,443.72L264.91,453.06L269.15,456.45L352.40,456.45" stroke="#0072BD"/>
<path d="M228.40,374.94L235.02,384.28L241.98,394.47L247.25,409.75L253.02,430.13L259.39,445.42L264.48,453.91L268.73,456.45L352.40,456.45" stroke="#D95319"/>
<path d="M228.40,375.11L234.76,385.13L241.56,397.02L246.65,411.45L252.59,431.83L259.13,446.26L264.23,454.33L268.47,456.45L352.40,456.45" stroke="#EDB120"/>
<path d="M228.40,375.37L234.34,385.98L241.13,399.57L246.23,413.15L252.17,433.53L258.96,447.96L264.06,454.75L268.30,456.45L352.40,456.45" stroke="#7E2F8E"/>
</g>
<text class="tk" transform="translate(221.80,462.80) scale(1,1.1)" text-anchor="end">0</text>
<text class="tk" transform="translate(221.80,422.16) scale(1,1.1)" text-anchor="end">10</text>
<text class="tk" transform="translate(221.80,381.52) scale(1,1.1)" text-anchor="end">20</text>
<text class="tk" transform="translate(225.20,482.80) scale(1,1.1)" text-anchor="middle">10</text><text class="sup" transform="translate(235.60,475.40) scale(1,1.1)" text-anchor="middle">0</text>
<text class="tk" transform="translate(266.53,482.80) scale(1,1.1)" text-anchor="middle">10</text><text class="sup" transform="translate(276.93,475.40) scale(1,1.1)" text-anchor="middle">1</text>
<text class="tk" transform="translate(307.87,482.80) scale(1,1.1)" text-anchor="middle">10</text><text class="sup" transform="translate(318.27,475.40) scale(1,1.1)" text-anchor="middle">2</text>
<text class="tk" transform="translate(349.20,482.80) scale(1,1.1)" text-anchor="middle">10</text><text class="sup" transform="translate(359.60,475.40) scale(1,1.1)" text-anchor="middle">3</text>
<text class="ttl" transform="translate(291.90,370.50) scale(1,1.2)" text-anchor="middle">F10</text>
<text class="xl" transform="translate(291.60,503.60) scale(1,1.05)" text-anchor="middle">Iterations</text>
<text class="yl" transform="translate(198.40,414.95) rotate(-90)" text-anchor="middle">Best score obtained</text>
<text class="pl" x="276.50" y="524.00" text-anchor="middle">(J)</text>
</g>
<g>
<clipPath id="c10"><rect x="425.40" y="371.30" width="116.80" height="88.50"/></clipPath>
<path d="M425.40,456.80v-1.6M425.40,374.30v1.6M437.07,456.80v-0.9M437.07,374.30v0.9M443.90,456.80v-0.9M443.90,374.30v0.9M448.74,456.80v-0.9M448.74,374.30v0.9M452.50,456.80v-0.9M452.50,374.30v0.9M455.57,456.80v-0.9M455.57,374.30v0.9M458.16,456.80v-0.9M458.16,374.30v0.9M460.41,456.80v-0.9M460.41,374.30v0.9M462.39,456.80v-0.9M462.39,374.30v0.9M464.17,456.80v-1.6M464.17,374.30v1.6M475.84,456.80v-0.9M475.84,374.30v0.9M482.66,456.80v-0.9M482.66,374.30v0.9M487.51,456.80v-0.9M487.51,374.30v0.9M491.26,456.80v-0.9M491.26,374.30v0.9M494.33,456.80v-0.9M494.33,374.30v0.9M496.93,456.80v-0.9M496.93,374.30v0.9M499.18,456.80v-0.9M499.18,374.30v0.9M501.16,456.80v-0.9M501.16,374.30v0.9M502.93,456.80v-1.6M502.93,374.30v1.6M514.60,456.80v-0.9M514.60,374.30v0.9M521.43,456.80v-0.9M521.43,374.30v0.9M526.27,456.80v-0.9M526.27,374.30v0.9M530.03,456.80v-0.9M530.03,374.30v0.9M533.10,456.80v-0.9M533.10,374.30v0.9M535.69,456.80v-0.9M535.69,374.30v0.9M537.94,456.80v-0.9M537.94,374.30v0.9M539.93,456.80v-0.9M539.93,374.30v0.9M541.70,456.80v-1.6M541.70,374.30v1.6M425.40,456.80h1.6M541.70,456.80h-1.6M425.40,390.80h1.6M541.70,390.80h-1.6" stroke="#262626" stroke-width="0.6" fill="none"/>
<rect x="425.40" y="374.30" width="116.30" height="82.50" fill="none" stroke="#262626" stroke-width="0.9"/>
<g clip-path="url(#c10)" fill="none" stroke-width="3.7" stroke-linejoin="round" stroke-linecap="butt">
<path d="M425.40,374.52L437.28,442.87L444.08,453.06L449.17,456.03L454.26,456.45L541.70,456.45" stroke="#0072BD"/>
<path d="M425.40,376.22L437.11,444.57L443.91,453.91L449.17,456.03L454.26,456.45L541.70,456.45" stroke="#D95319"/>
<path d="M425.40,381.74L436.86,445.84L443.65,454.33L449.17,456.20L454.26,456.45L541.70,456.45" stroke="#EDB120"/>
<path d="M425.40,385.13L436.43,447.54L443.23,454.75L447.47,456.03L454.26,456.45L541.70,456.45" stroke="#7E2F8E"/>
</g>
<text class="tk" transform="translate(418.80,462.80) scale(1,1.1)" text-anchor="end">0</text>
<text class="tk" transform="translate(418.80,396.80) scale(1,1.1)" text-anchor="end">500</text>
<text class="tk" transform="translate(422.20,482.80) scale(1,1.1)" text-anchor="middle">10</text><text class="sup" transform="translate(432.60,475.40) scale(1,1.1)" text-anchor="middle">0</text>
<text class="tk" transform="translate(460.97,482.80) scale(1,1.1)" text-anchor="middle">10</text><text class="sup" transform="translate(471.37,475.40) scale(1,1.1)" text-anchor="middle">1</text>
<text class="tk" transform="translate(499.73,482.80) scale(1,1.1)" text-anchor="middle">10</text><text class="sup" transform="translate(510.13,475.40) scale(1,1.1)" text-anchor="middle">2</text>
<text class="tk" transform="translate(538.50,482.80) scale(1,1.1)" text-anchor="middle">10</text><text class="sup" transform="translate(548.90,475.40) scale(1,1.1)" text-anchor="middle">3</text>
<text class="ttl" transform="translate(485.05,370.50) scale(1,1.2)" text-anchor="middle">F11</text>
<text class="xl" transform="translate(484.75,503.60) scale(1,1.05)" text-anchor="middle">Iterations</text>
<text class="yl" transform="translate(387.40,414.95) rotate(-90)" text-anchor="middle">Best score obtained</text>
<text class="pl" x="465.50" y="524.00" text-anchor="middle">(K)</text>
</g>
<g>
<clipPath id="c11"><rect x="598.40" y="371.30" width="132.70" height="88.50"/></clipPath>
<path d="M598.40,456.80v-1.6M598.40,374.30v1.6M611.67,456.80v-0.9M611.67,374.30v0.9M619.43,456.80v-0.9M619.43,374.30v0.9M624.93,456.80v-0.9M624.93,374.30v0.9M629.20,456.80v-0.9M629.20,374.30v0.9M632.69,456.80v-0.9M632.69,374.30v0.9M635.64,456.80v-0.9M635.64,374.30v0.9M638.20,456.80v-0.9M638.20,374.30v0.9M640.45,456.80v-0.9M640.45,374.30v0.9M642.47,456.80v-1.6M642.47,374.30v1.6M655.73,456.80v-0.9M655.73,374.30v0.9M663.49,456.80v-0.9M663.49,374.30v0.9M669.00,456.80v-0.9M669.00,374.30v0.9M673.27,456.80v-0.9M673.27,374.30v0.9M676.76,456.80v-0.9M676.76,374.30v0.9M679.71,456.80v-0.9M679.71,374.30v0.9M682.26,456.80v-0.9M682.26,374.30v0.9M684.52,456.80v-0.9M684.52,374.30v0.9M686.53,456.80v-1.6M686.53,374.30v1.6M699.80,456.80v-0.9M699.80,374.30v0.9M707.56,456.80v-0.9M707.56,374.30v0.9M713.06,456.80v-0.9M713.06,374.30v0.9M717.33,456.80v-0.9M717.33,374.30v0.9M720.82,456.80v-0.9M720.82,374.30v0.9M723.77,456.80v-0.9M723.77,374.30v0.9M726.33,456.80v-0.9M726.33,374.30v0.9M728.58,456.80v-0.9M728.58,374.30v0.9M730.60,456.80v-1.6M730.60,374.30v1.6M598.40,456.80h1.6M730.60,456.80h-1.6M598.40,393.34h1.6M730.60,393.34h-1.6" stroke="#262626" stroke-width="0.6" fill="none"/>
<rect x="598.40" y="374.30" width="132.20" height="82.50" fill="none" stroke="#262626" stroke-width="0.9"/>
<g clip-path="url(#c11)" fill="none" stroke-width="3.7" stroke-linejoin="round" stroke-linecap="butt">
<path d="M598.40,374.94L611.98,456.03L617.08,456.45L730.60,456.45" stroke="#0072BD"/>
<path d="M598.40,377.49L611.98,456.03L617.08,456.45L730.60,456.45" stroke="#D95319"/>
<path d="M598.40,388.95L611.81,456.03L617.08,456.45L730.60,456.45" stroke="#EDB120"/>
<path d="M598.40,400.42L611.56,456.03L617.08,456.45L730.60,456.45" stroke="#7E2F8E"/>
</g>
<text class="tk" transform="translate(591.80,462.80) scale(1,1.1)" text-anchor="end">0</text>
<text class="tk" transform="translate(591.80,399.34) scale(1,1.1)" text-anchor="end">5</text>
<text class="tk" transform="translate(595.20,482.80) scale(1,1.1)" text-anchor="middle">10</text><text class="sup" transform="translate(605.60,475.40) scale(1,1.1)" text-anchor="middle">0</text>
<text class="tk" transform="translate(639.27,482.80) scale(1,1.1)" text-anchor="middle">10</text><text class="sup" transform="translate(649.67,475.40) scale(1,1.1)" text-anchor="middle">1</text>
<text class="tk" transform="translate(683.33,482.80) scale(1,1.1)" text-anchor="middle">10</text><text class="sup" transform="translate(693.73,475.40) scale(1,1.1)" text-anchor="middle">2</text>
<text class="tk" transform="translate(727.40,482.80) scale(1,1.1)" text-anchor="middle">10</text><text class="sup" transform="translate(737.80,475.40) scale(1,1.1)" text-anchor="middle">3</text>
<text class="tx" transform="translate(599.90,373.30) scale(1,0.95)">×</text><text class="tk" transform="translate(611.80,371.10) scale(1,1.1)" letter-spacing="1.2">10</text><text class="sup2" transform="translate(627.70,362.60) scale(1,1.1)">8</text>
<text class="ttl" transform="translate(666.00,370.50) scale(1,1.2)" text-anchor="middle">F12</text>
<text class="xl" transform="translate(665.70,503.60) scale(1,1.05)" text-anchor="middle">Iterations</text>
<text class="yl" transform="translate(576.40,414.95) rotate(-90)" text-anchor="middle">Best score obtained</text>
<text class="pl" x="654.50" y="524.00" text-anchor="middle">(L)</text>
</g>
<g>
<clipPath id="c12"><rect x="39.40" y="548.50" width="124.50" height="88.50"/></clipPath>
<path d="M39.40,634.00v-1.6M39.40,551.50v1.6M51.84,634.00v-0.9M51.84,551.50v0.9M59.12,634.00v-0.9M59.12,551.50v0.9M64.29,634.00v-0.9M64.29,551.50v0.9M68.29,634.00v-0.9M68.29,551.50v0.9M71.56,634.00v-0.9M71.56,551.50v0.9M74.33,634.00v-0.9M74.33,551.50v0.9M76.73,634.00v-0.9M76.73,551.50v0.9M78.84,634.00v-0.9M78.84,551.50v0.9M80.73,634.00v-1.6M80.73,551.50v1.6M93.18,634.00v-0.9M93.18,551.50v0.9M100.45,634.00v-0.9M100.45,551.50v0.9M105.62,634.00v-0.9M105.62,551.50v0.9M109.62,634.00v-0.9M109.62,551.50v0.9M112.90,634.00v-0.9M112.90,551.50v0.9M115.66,634.00v-0.9M115.66,551.50v0.9M118.06,634.00v-0.9M118.06,551.50v0.9M120.18,634.00v-0.9M120.18,551.50v0.9M122.07,634.00v-1.6M122.07,551.50v1.6M134.51,634.00v-0.9M134.51,551.50v0.9M141.79,634.00v-0.9M141.79,551.50v0.9M146.95,634.00v-0.9M146.95,551.50v0.9M150.96,634.00v-0.9M150.96,551.50v0.9M154.23,634.00v-0.9M154.23,551.50v0.9M157.00,634.00v-0.9M157.00,551.50v0.9M159.39,634.00v-0.9M159.39,551.50v0.9M161.51,634.00v-0.9M161.51,551.50v0.9M163.40,634.00v-1.6M163.40,551.50v1.6M39.40,634.00h1.6M163.40,634.00h-1.6M39.40,599.77h1.6M163.40,599.77h-1.6M39.40,565.54h1.6M163.40,565.54h-1.6" stroke="#262626" stroke-width="0.6" fill="none"/>
<rect x="39.40" y="551.50" width="124.00" height="82.50" fill="none" stroke="#262626" stroke-width="0.9"/>
<g clip-path="url(#c12)" fill="none" stroke-width="3.7" stroke-linejoin="round" stroke-linecap="butt">
<path d="M39.40,551.94L52.98,632.18L59.77,633.62L163.40,633.88" stroke="#0072BD"/>
<path d="M39.40,553.22L52.81,632.43L59.77,633.62L163.40,633.88" stroke="#D95319"/>
<path d="M39.40,567.23L52.56,632.77L59.77,633.62L163.40,633.88" stroke="#EDB120"/>
<path d="M39.40,569.35L52.13,633.45L59.77,633.62L163.40,633.88" stroke="#7E2F8E"/>
</g>
<text class="tk" transform="translate(32.80,640.00) scale(1,1.1)" text-anchor="end">0</text>
<text class="tk" transform="translate(32.80,605.77) scale(1,1.1)" text-anchor="end">5</text>
<text class="tk" transform="translate(32.80,571.54) scale(1,1.1)" text-anchor="end">10</text>
<text class="tk" transform="translate(36.20,660.00) scale(1,1.1)" text-anchor="middle">10</text><text class="sup" transform="translate(46.60,652.60) scale(1,1.1)" text-anchor="middle">0</text>
<text class="tk" transform="translate(77.53,660.00) scale(1,1.1)" text-anchor="middle">10</text><text class="sup" transform="translate(87.93,652.60) scale(1,1.1)" text-anchor="middle">1</text>
<text class="tk" transform="translate(118.87,660.00) scale(1,1.1)" text-anchor="middle">10</text><text class="sup" transform="translate(129.27,652.60) scale(1,1.1)" text-anchor="middle">2</text>
<text class="tk" transform="translate(160.20,660.00) scale(1,1.1)" text-anchor="middle">10</text><text class="sup" transform="translate(170.60,652.60) scale(1,1.1)" text-anchor="middle">3</text>
<text class="tx" transform="translate(40.90,550.50) scale(1,0.95)">×</text><text class="tk" transform="translate(52.80,548.30) scale(1,1.1)" letter-spacing="1.2">10</text><text class="sup2" transform="translate(68.70,539.80) scale(1,1.1)">8</text>
<text class="ttl" transform="translate(102.90,547.70) scale(1,1.2)" text-anchor="middle">F13</text>
<text class="xl" transform="translate(102.60,680.80) scale(1,1.05)" text-anchor="middle">Iterations</text>
<text class="yl" transform="translate(9.90,592.15) rotate(-90)" text-anchor="middle">Best score obtained</text>
<text class="pl" x="87.50" y="701.20" text-anchor="middle">(M)</text>
</g>
<g>
<clipPath id="c13"><rect x="236.40" y="548.50" width="116.50" height="88.50"/></clipPath>
<path d="M236.40,634.00v-1.6M236.40,551.50v1.6M248.04,634.00v-0.9M248.04,551.50v0.9M254.85,634.00v-0.9M254.85,551.50v0.9M259.68,634.00v-0.9M259.68,551.50v0.9M263.43,634.00v-0.9M263.43,551.50v0.9M266.49,634.00v-0.9M266.49,551.50v0.9M269.08,634.00v-0.9M269.08,551.50v0.9M271.32,634.00v-0.9M271.32,551.50v0.9M273.30,634.00v-0.9M273.30,551.50v0.9M275.07,634.00v-1.6M275.07,551.50v1.6M286.71,634.00v-0.9M286.71,551.50v0.9M293.52,634.00v-0.9M293.52,551.50v0.9M298.35,634.00v-0.9M298.35,551.50v0.9M302.09,634.00v-0.9M302.09,551.50v0.9M305.16,634.00v-0.9M305.16,551.50v0.9M307.74,634.00v-0.9M307.74,551.50v0.9M309.99,634.00v-0.9M309.99,551.50v0.9M311.96,634.00v-0.9M311.96,551.50v0.9M313.73,634.00v-1.6M313.73,551.50v1.6M325.37,634.00v-0.9M325.37,551.50v0.9M332.18,634.00v-0.9M332.18,551.50v0.9M337.01,634.00v-0.9M337.01,551.50v0.9M340.76,634.00v-0.9M340.76,551.50v0.9M343.82,634.00v-0.9M343.82,551.50v0.9M346.41,634.00v-0.9M346.41,551.50v0.9M348.65,634.00v-0.9M348.65,551.50v0.9M350.63,634.00v-0.9M350.63,551.50v0.9M352.40,634.00v-1.6M352.40,551.50v1.6M236.40,634.00h1.6M352.40,634.00h-1.6M236.40,581.95h1.6M352.40,581.95h-1.6" stroke="#262626" stroke-width="0.6" fill="none"/>
<rect x="236.40" y="551.50" width="116.00" height="82.50" fill="none" stroke="#262626" stroke-width="0.9"/>
<g clip-path="url(#c13)" fill="none" stroke-width="3.7" stroke-linejoin="round" stroke-linecap="butt">
<path d="M236.40,552.37L248.71,624.11L255.08,628.36L259.58,629.63L263.40,630.48L271.21,631.58L352.40,631.58" stroke="#0072BD"/>
<path d="M236.40,563.83L248.28,626.66L255.08,630.06L263.40,631.75L275.45,632.77L352.40,633.03" stroke="#D95319"/>
<path d="M236.40,595.25L247.43,628.78L254.23,631.33L263.40,632.60L275.45,633.28L352.40,633.45" stroke="#EDB120"/>
<path d="M236.40,626.24L248.28,631.33L263.40,633.45L271.21,633.88L352.40,633.88" stroke="#7E2F8E"/>
</g>
<text class="tk" transform="translate(229.80,640.00) scale(1,1.1)" text-anchor="end">0</text>
<text class="tk" transform="translate(229.80,587.95) scale(1,1.1)" text-anchor="end">100</text>
<text class="tk" transform="translate(233.20,660.00) scale(1,1.1)" text-anchor="middle">10</text><text class="sup" transform="translate(243.60,652.60) scale(1,1.1)" text-anchor="middle">0</text>
<text class="tk" transform="translate(271.87,660.00) scale(1,1.1)" text-anchor="middle">10</text><text class="sup" transform="translate(282.27,652.60) scale(1,1.1)" text-anchor="middle">1</text>
<text class="tk" transform="translate(310.53,660.00) scale(1,1.1)" text-anchor="middle">10</text><text class="sup" transform="translate(320.93,652.60) scale(1,1.1)" text-anchor="middle">2</text>
<text class="tk" transform="translate(349.20,660.00) scale(1,1.1)" text-anchor="middle">10</text><text class="sup" transform="translate(359.60,652.60) scale(1,1.1)" text-anchor="middle">3</text>
<text class="ttl" transform="translate(295.90,547.70) scale(1,1.2)" text-anchor="middle">F14</text>
<text class="xl" transform="translate(295.60,680.80) scale(1,1.05)" text-anchor="middle">Iterations</text>
<text class="yl" transform="translate(198.40,592.15) rotate(-90)" text-anchor="middle">Best score obtained</text>
<text class="pl" x="276.50" y="701.20" text-anchor="middle">(N)</text>
</g>
<g>
<clipPath id="c14"><rect x="421.40" y="548.50" width="120.80" height="88.50"/></clipPath>
<path d="M421.40,634.00v-1.6M421.40,551.50v1.6M433.47,634.00v-0.9M433.47,551.50v0.9M440.53,634.00v-0.9M440.53,551.50v0.9M445.54,634.00v-0.9M445.54,551.50v0.9M449.43,634.00v-0.9M449.43,551.50v0.9M452.60,634.00v-0.9M452.60,551.50v0.9M455.29,634.00v-0.9M455.29,551.50v0.9M457.61,634.00v-0.9M457.61,551.50v0.9M459.67,634.00v-0.9M459.67,551.50v0.9M461.50,634.00v-1.6M461.50,551.50v1.6M473.57,634.00v-0.9M473.57,551.50v0.9M480.63,634.00v-0.9M480.63,551.50v0.9M485.64,634.00v-0.9M485.64,551.50v0.9M489.53,634.00v-0.9M489.53,551.50v0.9M492.70,634.00v-0.9M492.70,551.50v0.9M495.39,634.00v-0.9M495.39,551.50v0.9M497.71,634.00v-0.9M497.71,551.50v0.9M499.77,634.00v-0.9M499.77,551.50v0.9M501.60,634.00v-1.6M501.60,551.50v1.6M513.67,634.00v-0.9M513.67,551.50v0.9M520.73,634.00v-0.9M520.73,551.50v0.9M525.74,634.00v-0.9M525.74,551.50v0.9M529.63,634.00v-0.9M529.63,551.50v0.9M532.80,634.00v-0.9M532.80,551.50v0.9M535.49,634.00v-0.9M535.49,551.50v0.9M537.81,634.00v-0.9M537.81,551.50v0.9M539.87,634.00v-0.9M539.87,551.50v0.9M541.70,634.00v-1.6M541.70,551.50v1.6M421.40,634.00h1.6M541.70,634.00h-1.6M421.40,598.44h1.6M541.70,598.44h-1.6M421.40,562.88h1.6M541.70,562.88h-1.6" stroke="#262626" stroke-width="0.6" fill="none"/>
<rect x="421.40" y="551.50" width="120.30" height="82.50" fill="none" stroke="#262626" stroke-width="0.9"/>
<g clip-path="url(#c14)" fill="none" stroke-width="3.7" stroke-linejoin="round" stroke-linecap="butt">
<path d="M421.40,552.37L433.71,626.24L440.50,629.63L445.51,631.33L453.66,633.03L462.15,633.88L541.70,633.88" stroke="#0072BD"/>
<path d="M421.40,579.54L433.28,626.66L440.50,630.48L449.42,632.60L462.15,633.88L541.70,633.88" stroke="#D95319"/>
<path d="M421.40,619.87L433.45,628.78L440.50,631.75L449.42,633.03L462.15,633.88L541.70,633.88" stroke="#EDB120"/>
<path d="M421.40,624.11L433.45,630.91L440.50,632.60L449.42,633.45L462.15,633.88L541.70,633.88" stroke="#7E2F8E"/>
</g>
<text class="tk" transform="translate(414.80,640.00) scale(1,1.1)" text-anchor="end">0</text>
<text class="tk" transform="translate(414.80,604.44) scale(1,1.1)" text-anchor="end">0.2</text>
<text class="tk" transform="translate(414.80,568.88) scale(1,1.1)" text-anchor="end">0.4</text>
<text class="tk" transform="translate(418.20,660.00) scale(1,1.1)" text-anchor="middle">10</text><text class="sup" transform="translate(428.60,652.60) scale(1,1.1)" text-anchor="middle">0</text>
<text class="tk" transform="translate(458.30,660.00) scale(1,1.1)" text-anchor="middle">10</text><text class="sup" transform="translate(468.70,652.60) scale(1,1.1)" text-anchor="middle">1</text>
<text class="tk" transform="translate(498.40,660.00) scale(1,1.1)" text-anchor="middle">10</text><text class="sup" transform="translate(508.80,652.60) scale(1,1.1)" text-anchor="middle">2</text>
<text class="tk" transform="translate(538.50,660.00) scale(1,1.1)" text-anchor="middle">10</text><text class="sup" transform="translate(548.90,652.60) scale(1,1.1)" text-anchor="middle">3</text>
<text class="ttl" transform="translate(483.05,547.70) scale(1,1.2)" text-anchor="middle">F15</text>
<text class="xl" transform="translate(482.75,680.80) scale(1,1.05)" text-anchor="middle">Iterations</text>
<text class="yl" transform="translate(387.40,592.15) rotate(-90)" text-anchor="middle">Best score obtained</text>
<text class="pl" x="465.50" y="701.20" text-anchor="middle">(O)</text>
</g>
<g>
<clipPath id="c15"><rect x="603.40" y="548.50" width="127.70" height="88.50"/></clipPath>
<path d="M603.40,634.00v-1.6M603.40,551.50v1.6M616.16,634.00v-0.9M616.16,551.50v0.9M623.63,634.00v-0.9M623.63,551.50v0.9M628.93,634.00v-0.9M628.93,551.50v0.9M633.04,634.00v-0.9M633.04,551.50v0.9M636.39,634.00v-0.9M636.39,551.50v0.9M639.23,634.00v-0.9M639.23,551.50v0.9M641.69,634.00v-0.9M641.69,551.50v0.9M643.86,634.00v-0.9M643.86,551.50v0.9M645.80,634.00v-1.6M645.80,551.50v1.6M658.56,634.00v-0.9M658.56,551.50v0.9M666.03,634.00v-0.9M666.03,551.50v0.9M671.33,634.00v-0.9M671.33,551.50v0.9M675.44,634.00v-0.9M675.44,551.50v0.9M678.79,634.00v-0.9M678.79,551.50v0.9M681.63,634.00v-0.9M681.63,551.50v0.9M684.09,634.00v-0.9M684.09,551.50v0.9M686.26,634.00v-0.9M686.26,551.50v0.9M688.20,634.00v-1.6M688.20,551.50v1.6M700.96,634.00v-0.9M700.96,551.50v0.9M708.43,634.00v-0.9M708.43,551.50v0.9M713.73,634.00v-0.9M713.73,551.50v0.9M717.84,634.00v-0.9M717.84,551.50v0.9M721.19,634.00v-0.9M721.19,551.50v0.9M724.03,634.00v-0.9M724.03,551.50v0.9M726.49,634.00v-0.9M726.49,551.50v0.9M728.66,634.00v-0.9M728.66,551.50v0.9M730.60,634.00v-1.6M730.60,551.50v1.6M603.40,634.00h1.6M730.60,634.00h-1.6M603.40,609.15h1.6M730.60,609.15h-1.6M603.40,584.30h1.6M730.60,584.30h-1.6M603.40,559.45h1.6M730.60,559.45h-1.6" stroke="#262626" stroke-width="0.6" fill="none"/>
<rect x="603.40" y="551.50" width="127.20" height="82.50" fill="none" stroke="#262626" stroke-width="0.9"/>
<g clip-path="url(#c15)" fill="none" stroke-width="3.7" stroke-linejoin="round" stroke-linecap="butt">
<path d="M603.40,552.37L616.56,626.24L623.60,631.75L628.87,633.03L638.21,633.88L730.60,633.88" stroke="#0072BD"/>
<path d="M603.40,602.04L616.13,629.63L623.60,632.60L628.87,633.45L638.21,633.88L730.60,633.88" stroke="#D95319"/>
<path d="M603.40,613.08L616.13,630.91L623.60,633.03L628.87,633.45L638.21,633.88L730.60,633.88" stroke="#EDB120"/>
<path d="M603.40,613.50L616.13,632.60L623.60,633.45L628.87,633.62L638.21,633.88L730.60,633.88" stroke="#7E2F8E"/>
</g>
<text class="tk" transform="translate(596.80,640.00) scale(1,1.1)" text-anchor="end">-1</text>
<text class="tk" transform="translate(596.80,615.15) scale(1,1.1)" text-anchor="end">0</text>
<text class="tk" transform="translate(596.80,590.30) scale(1,1.1)" text-anchor="end">1</text>
<text class="tk" transform="translate(596.80,565.45) scale(1,1.1)" text-anchor="end">2</text>
<text class="tk" transform="translate(600.20,660.00) scale(1,1.1)" text-anchor="middle">10</text><text class="sup" transform="translate(610.60,652.60) scale(1,1.1)" text-anchor="middle">0</text>
<text class="tk" transform="translate(642.60,660.00) scale(1,1.1)" text-anchor="middle">10</text><text class="sup" transform="translate(653.00,652.60) scale(1,1.1)" text-anchor="middle">1</text>
<text class="tk" transform="translate(685.00,660.00) scale(1,1.1)" text-anchor="middle">10</text><text class="sup" transform="translate(695.40,652.60) scale(1,1.1)" text-anchor="middle">2</text>
<text class="tk" transform="translate(727.40,660.00) scale(1,1.1)" text-anchor="middle">10</text><text class="sup" transform="translate(737.80,652.60) scale(1,1.1)" text-anchor="middle">3</text>
<text class="ttl" transform="translate(668.50,547.70) scale(1,1.2)" text-anchor="middle">F16</text>
<text class="xl" transform="translate(668.20,680.80) scale(1,1.05)" text-anchor="middle">Iterations</text>
<text class="yl" transform="translate(576.40,592.15) rotate(-90)" text-anchor="middle">Best score obtained</text>
<text class="pl" x="654.50" y="701.20" text-anchor="middle">(P)</text>
</g>
<g>
<clipPath id="c16"><rect x="31.40" y="725.60" width="132.50" height="88.50"/></clipPath>
<path d="M31.40,811.10v-1.6M31.40,728.60v1.6M44.65,811.10v-0.9M44.65,728.60v0.9M52.39,811.10v-0.9M52.39,728.60v0.9M57.89,811.10v-0.9M57.89,728.60v0.9M62.15,811.10v-0.9M62.15,728.60v0.9M65.64,811.10v-0.9M65.64,728.60v0.9M68.58,811.10v-0.9M68.58,728.60v0.9M71.14,811.10v-0.9M71.14,728.60v0.9M73.39,811.10v-0.9M73.39,728.60v0.9M75.40,811.10v-1.6M75.40,728.60v1.6M88.65,811.10v-0.9M88.65,728.60v0.9M96.39,811.10v-0.9M96.39,728.60v0.9M101.89,811.10v-0.9M101.89,728.60v0.9M106.15,811.10v-0.9M106.15,728.60v0.9M109.64,811.10v-0.9M109.64,728.60v0.9M112.58,811.10v-0.9M112.58,728.60v0.9M115.14,811.10v-0.9M115.14,728.60v0.9M117.39,811.10v-0.9M117.39,728.60v0.9M119.40,811.10v-1.6M119.40,728.60v1.6M132.65,811.10v-0.9M132.65,728.60v0.9M140.39,811.10v-0.9M140.39,728.60v0.9M145.89,811.10v-0.9M145.89,728.60v0.9M150.15,811.10v-0.9M150.15,728.60v0.9M153.64,811.10v-0.9M153.64,728.60v0.9M156.58,811.10v-0.9M156.58,728.60v0.9M159.14,811.10v-0.9M159.14,728.60v0.9M161.39,811.10v-0.9M161.39,728.60v0.9M163.40,811.10v-1.6M163.40,728.60v1.6M31.40,811.10h1.6M163.40,811.10h-1.6M31.40,783.60h1.6M163.40,783.60h-1.6M31.40,756.10h1.6M163.40,756.10h-1.6M31.40,728.60h1.6M163.40,728.60h-1.6" stroke="#262626" stroke-width="0.6" fill="none"/>
<rect x="31.40" y="728.60" width="132.00" height="82.50" fill="none" stroke="#262626" stroke-width="0.9"/>
<g clip-path="url(#c16)" fill="none" stroke-width="3.7" stroke-linejoin="round" stroke-linecap="butt">
<path d="M31.40,742.95L44.56,784.13L52.37,793.47L57.89,796.87L62.30,798.14L75.29,799.67L83.19,800.09L163.40,800.09" stroke="#0072BD"/>
<path d="M31.40,778.61L44.64,793.47L52.37,797.29L57.89,798.57L66.21,799.84L74.70,800.09L163.40,800.09" stroke="#D95319"/>
<path d="M31.40,775.22L44.64,794.32L52.37,797.72L57.89,798.99L66.21,799.92L74.70,800.09L163.40,800.09" stroke="#EDB120"/>
<path d="M31.40,786.25L44.64,797.72L52.37,799.42L57.89,799.92L66.21,800.09L163.40,800.09" stroke="#7E2F8E"/>
</g>
<text class="tk" transform="translate(24.80,817.10) scale(1,1.1)" text-anchor="end">0</text>
<text class="tk" transform="translate(24.80,789.60) scale(1,1.1)" text-anchor="end">1</text>
<text class="tk" transform="translate(24.80,762.10) scale(1,1.1)" text-anchor="end">2</text>
<text class="tk" transform="translate(24.80,734.60) scale(1,1.1)" text-anchor="end">3</text>
<text class="tk" transform="translate(28.20,837.10) scale(1,1.1)" text-anchor="middle">10</text><text class="sup" transform="translate(38.60,829.70) scale(1,1.1)" text-anchor="middle">0</text>
<text class="tk" transform="translate(72.20,837.10) scale(1,1.1)" text-anchor="middle">10</text><text class="sup" transform="translate(82.60,829.70) scale(1,1.1)" text-anchor="middle">1</text>
<text class="tk" transform="translate(116.20,837.10) scale(1,1.1)" text-anchor="middle">10</text><text class="sup" transform="translate(126.60,829.70) scale(1,1.1)" text-anchor="middle">2</text>
<text class="tk" transform="translate(160.20,837.10) scale(1,1.1)" text-anchor="middle">10</text><text class="sup" transform="translate(170.60,829.70) scale(1,1.1)" text-anchor="middle">3</text>
<text class="ttl" transform="translate(98.90,724.80) scale(1,1.2)" text-anchor="middle">F17</text>
<text class="xl" transform="translate(98.60,857.90) scale(1,1.05)" text-anchor="middle">Iterations</text>
<text class="yl" transform="translate(9.90,769.25) rotate(-90)" text-anchor="middle">Best score obtained</text>
<text class="pl" x="87.50" y="878.30" text-anchor="middle">(Q)</text>
</g>
<g>
<clipPath id="c17"><rect x="236.40" y="725.60" width="116.50" height="88.50"/></clipPath>
<path d="M236.40,811.10v-1.6M236.40,728.60v1.6M248.04,811.10v-0.9M248.04,728.60v0.9M254.85,811.10v-0.9M254.85,728.60v0.9M259.68,811.10v-0.9M259.68,728.60v0.9M263.43,811.10v-0.9M263.43,728.60v0.9M266.49,811.10v-0.9M266.49,728.60v0.9M269.08,811.10v-0.9M269.08,728.60v0.9M271.32,811.10v-0.9M271.32,728.60v0.9M273.30,811.10v-0.9M273.30,728.60v0.9M275.07,811.10v-1.6M275.07,728.60v1.6M286.71,811.10v-0.9M286.71,728.60v0.9M293.52,811.10v-0.9M293.52,728.60v0.9M298.35,811.10v-0.9M298.35,728.60v0.9M302.09,811.10v-0.9M302.09,728.60v0.9M305.16,811.10v-0.9M305.16,728.60v0.9M307.74,811.10v-0.9M307.74,728.60v0.9M309.99,811.10v-0.9M309.99,728.60v0.9M311.96,811.10v-0.9M311.96,728.60v0.9M313.73,811.10v-1.6M313.73,728.60v1.6M325.37,811.10v-0.9M325.37,728.60v0.9M332.18,811.10v-0.9M332.18,728.60v0.9M337.01,811.10v-0.9M337.01,728.60v0.9M340.76,811.10v-0.9M340.76,728.60v0.9M343.82,811.10v-0.9M343.82,728.60v0.9M346.41,811.10v-0.9M346.41,728.60v0.9M348.65,811.10v-0.9M348.65,728.60v0.9M350.63,811.10v-0.9M350.63,728.60v0.9M352.40,811.10v-1.6M352.40,728.60v1.6M236.40,811.10h1.6M352.40,811.10h-1.6M236.40,769.85h1.6M352.40,769.85h-1.6M236.40,728.60h1.6M352.40,728.60h-1.6" stroke="#262626" stroke-width="0.6" fill="none"/>
<rect x="236.40" y="728.60" width="116.00" height="82.50" fill="none" stroke="#262626" stroke-width="0.9"/>
<g clip-path="url(#c17)" fill="none" stroke-width="3.7" stroke-linejoin="round" stroke-linecap="butt">
<path d="M236.40,743.80L247.01,798.57L254.82,804.51L259.58,806.21L266.96,806.80L317.74,806.80L318.75,808.75L352.40,808.75" stroke="#0072BD"/>
<path d="M236.40,739.13L247.86,797.29L254.82,803.24L256.77,804.68L267.98,807.91L283.94,808.75L352.40,808.92" stroke="#D95319"/>
<path d="M236.40,785.41L247.86,804.51L254.82,807.48L266.96,808.58L352.40,808.75" stroke="#EDB120"/>
<path d="M236.40,790.92L247.86,808.33L254.82,808.92L352.40,808.92" stroke="#7E2F8E"/>
</g>
<text class="tk" transform="translate(229.80,817.10) scale(1,1.1)" text-anchor="end">0</text>
<text class="tk" transform="translate(229.80,775.85) scale(1,1.1)" text-anchor="end">50</text>
<text class="tk" transform="translate(229.80,734.60) scale(1,1.1)" text-anchor="end">100</text>
<text class="tk" transform="translate(233.20,837.10) scale(1,1.1)" text-anchor="middle">10</text><text class="sup" transform="translate(243.60,829.70) scale(1,1.1)" text-anchor="middle">0</text>
<text class="tk" transform="translate(271.87,837.10) scale(1,1.1)" text-anchor="middle">10</text><text class="sup" transform="translate(282.27,829.70) scale(1,1.1)" text-anchor="middle">1</text>
<text class="tk" transform="translate(310.53,837.10) scale(1,1.1)" text-anchor="middle">10</text><text class="sup" transform="translate(320.93,829.70) scale(1,1.1)" text-anchor="middle">2</text>
<text class="tk" transform="translate(349.20,837.10) scale(1,1.1)" text-anchor="middle">10</text><text class="sup" transform="translate(359.60,829.70) scale(1,1.1)" text-anchor="middle">3</text>
<text class="ttl" transform="translate(295.90,724.80) scale(1,1.2)" text-anchor="middle">F18</text>
<text class="xl" transform="translate(295.60,857.90) scale(1,1.05)" text-anchor="middle">Iterations</text>
<text class="yl" transform="translate(198.40,769.25) rotate(-90)" text-anchor="middle">Best score obtained</text>
<text class="pl" x="276.50" y="878.30" text-anchor="middle">(R)</text>
</g>
<g>
<clipPath id="c18"><rect x="426.60" y="725.60" width="115.60" height="88.50"/></clipPath>
<path d="M426.60,811.10v-1.6M426.60,728.60v1.6M438.15,811.10v-0.9M438.15,728.60v0.9M444.91,811.10v-0.9M444.91,728.60v0.9M449.70,811.10v-0.9M449.70,728.60v0.9M453.42,811.10v-0.9M453.42,728.60v0.9M456.46,811.10v-0.9M456.46,728.60v0.9M459.02,811.10v-0.9M459.02,728.60v0.9M461.25,811.10v-0.9M461.25,728.60v0.9M463.21,811.10v-0.9M463.21,728.60v0.9M464.97,811.10v-1.6M464.97,728.60v1.6M476.52,811.10v-0.9M476.52,728.60v0.9M483.27,811.10v-0.9M483.27,728.60v0.9M488.07,811.10v-0.9M488.07,728.60v0.9M491.78,811.10v-0.9M491.78,728.60v0.9M494.82,811.10v-0.9M494.82,728.60v0.9M497.39,811.10v-0.9M497.39,728.60v0.9M499.62,811.10v-0.9M499.62,728.60v0.9M501.58,811.10v-0.9M501.58,728.60v0.9M503.33,811.10v-1.6M503.33,728.60v1.6M514.88,811.10v-0.9M514.88,728.60v0.9M521.64,811.10v-0.9M521.64,728.60v0.9M526.43,811.10v-0.9M526.43,728.60v0.9M530.15,811.10v-0.9M530.15,728.60v0.9M533.19,811.10v-0.9M533.19,728.60v0.9M535.76,811.10v-0.9M535.76,728.60v0.9M537.98,811.10v-0.9M537.98,728.60v0.9M539.94,811.10v-0.9M539.94,728.60v0.9M541.70,811.10v-1.6M541.70,728.60v1.6M426.60,811.10h1.6M541.70,811.10h-1.6M426.60,762.34h1.6M541.70,762.34h-1.6" stroke="#262626" stroke-width="0.6" fill="none"/>
<rect x="426.60" y="728.60" width="115.10" height="82.50" fill="none" stroke="#262626" stroke-width="0.9"/>
<g clip-path="url(#c18)" fill="none" stroke-width="3.7" stroke-linejoin="round" stroke-linecap="butt">
<path d="M426.62,729.41L432.82,742.23L438.16,756.11L444.89,783.88L449.69,788.15L453.43,792.43L459.52,795.63L464.97,797.02L473.40,797.45L541.70,797.45" stroke="#0072BD"/>
<path d="M426.62,735.82L432.28,752.91L438.16,770.00L444.89,786.02L449.69,791.36L453.43,794.03L464.97,797.02L473.40,797.45L541.70,797.45" stroke="#D95319"/>
<path d="M426.62,769.46L432.82,774.27L438.16,780.68L444.89,788.15L449.69,792.96L457.38,795.84L464.97,797.23L473.40,797.45L541.70,797.45" stroke="#EDB120"/>
<path d="M426.62,771.60L432.82,779.61L438.16,787.09L444.89,791.89L449.69,795.10L457.38,797.23L464.97,797.45L541.70,797.45" stroke="#7E2F8E"/>
</g>
<text class="tk" transform="translate(420.00,817.10) scale(1,1.1)" text-anchor="end">-4</text>
<text class="tk" transform="translate(420.00,768.34) scale(1,1.1)" text-anchor="end">-3.5</text>
<text class="tk" transform="translate(423.40,837.10) scale(1,1.1)" text-anchor="middle">10</text><text class="sup" transform="translate(433.80,829.70) scale(1,1.1)" text-anchor="middle">0</text>
<text class="tk" transform="translate(461.77,837.10) scale(1,1.1)" text-anchor="middle">10</text><text class="sup" transform="translate(472.17,829.70) scale(1,1.1)" text-anchor="middle">1</text>
<text class="tk" transform="translate(500.13,837.10) scale(1,1.1)" text-anchor="middle">10</text><text class="sup" transform="translate(510.53,829.70) scale(1,1.1)" text-anchor="middle">2</text>
<text class="tk" transform="translate(538.50,837.10) scale(1,1.1)" text-anchor="middle">10</text><text class="sup" transform="translate(548.90,829.70) scale(1,1.1)" text-anchor="middle">3</text>
<text class="ttl" transform="translate(485.65,724.80) scale(1,1.2)" text-anchor="middle">F19</text>
<text class="xl" transform="translate(485.35,857.90) scale(1,1.05)" text-anchor="middle">Iterations</text>
<text class="yl" transform="translate(387.40,769.25) rotate(-90)" text-anchor="middle">Best score obtained</text>
<text class="pl" x="465.50" y="878.30" text-anchor="middle">(S)</text>
</g>
<g>
<clipPath id="c19"><rect x="615.40" y="725.60" width="115.70" height="88.50"/></clipPath>
<path d="M615.40,811.10v-1.6M615.40,728.60v1.6M626.96,811.10v-0.9M626.96,728.60v0.9M633.72,811.10v-0.9M633.72,728.60v0.9M638.52,811.10v-0.9M638.52,728.60v0.9M642.24,811.10v-0.9M642.24,728.60v0.9M645.28,811.10v-0.9M645.28,728.60v0.9M647.85,811.10v-0.9M647.85,728.60v0.9M650.08,811.10v-0.9M650.08,728.60v0.9M652.04,811.10v-0.9M652.04,728.60v0.9M653.80,811.10v-1.6M653.80,728.60v1.6M665.36,811.10v-0.9M665.36,728.60v0.9M672.12,811.10v-0.9M672.12,728.60v0.9M676.92,811.10v-0.9M676.92,728.60v0.9M680.64,811.10v-0.9M680.64,728.60v0.9M683.68,811.10v-0.9M683.68,728.60v0.9M686.25,811.10v-0.9M686.25,728.60v0.9M688.48,811.10v-0.9M688.48,728.60v0.9M690.44,811.10v-0.9M690.44,728.60v0.9M692.20,811.10v-1.6M692.20,728.60v1.6M703.76,811.10v-0.9M703.76,728.60v0.9M710.52,811.10v-0.9M710.52,728.60v0.9M715.32,811.10v-0.9M715.32,728.60v0.9M719.04,811.10v-0.9M719.04,728.60v0.9M722.08,811.10v-0.9M722.08,728.60v0.9M724.65,811.10v-0.9M724.65,728.60v0.9M726.88,811.10v-0.9M726.88,728.60v0.9M728.84,811.10v-0.9M728.84,728.60v0.9M730.60,811.10v-1.6M730.60,728.60v1.6M615.40,797.17h1.6M730.60,797.17h-1.6M615.40,775.12h1.6M730.60,775.12h-1.6M615.40,753.07h1.6M730.60,753.07h-1.6" stroke="#262626" stroke-width="0.6" fill="none"/>
<rect x="615.40" y="728.60" width="115.20" height="82.50" fill="none" stroke="#262626" stroke-width="0.9"/>
<g clip-path="url(#c19)" fill="none" stroke-width="3.7" stroke-linejoin="round" stroke-linecap="butt">
<path d="M615.41,733.81C616.51,736.62 620.09,745.83 622.02,750.64C623.94,755.44 625.24,758.85 626.94,762.65C628.64,766.46 630.29,769.26 632.23,773.47C634.17,777.67 636.94,784.28 638.60,787.89C640.26,791.49 640.56,792.69 642.20,795.10C643.85,797.50 646.51,800.40 648.45,802.31C650.39,804.21 651.15,805.46 653.86,806.51C656.68,807.61 659.63,808.69 665.39,808.91C678.18,809.42 719.73,809.42 730.60,809.52" stroke="#0072BD"/>
<path d="M615.41,729.61C616.51,732.31 620.09,740.92 622.02,745.83C623.94,750.74 624.98,753.24 626.94,759.05C628.91,764.86 631.85,775.47 633.79,780.68C635.73,785.88 637.20,787.49 638.60,790.29C640.00,793.09 640.76,795.30 642.20,797.50C643.64,799.70 645.31,801.91 647.25,803.51C649.19,805.11 650.83,806.11 653.86,807.11C656.88,808.11 659.63,809.28 665.39,809.52C678.18,810.04 719.73,810.12 730.60,810.24" stroke="#D95319"/>
<path d="M615.41,737.42C616.51,740.22 620.09,749.23 622.02,754.24C623.94,759.25 624.98,762.45 626.94,767.46C628.91,772.47 631.85,780.08 633.79,784.28C635.73,788.49 637.20,790.29 638.60,792.69C640.00,795.10 640.56,796.80 642.20,798.70C643.85,800.60 646.51,802.61 648.45,804.11C650.39,805.61 651.15,806.81 653.86,807.71C656.68,808.65 659.63,809.57 665.39,809.76C678.18,810.18 719.73,810.16 730.60,810.24" stroke="#EDB120"/>
<path d="M615.41,757.25C616.51,759.75 620.09,767.76 622.02,772.27C623.94,776.77 624.98,780.68 626.94,784.28C628.91,787.89 631.85,791.29 633.79,793.89C635.73,796.50 637.20,798.30 638.60,799.90C640.00,801.50 640.56,802.31 642.20,803.51C643.85,804.71 646.51,806.21 648.45,807.11C650.39,808.01 651.15,808.42 653.86,808.91C656.68,809.44 659.63,810.12 665.39,810.24C678.18,810.50 719.73,810.44 730.60,810.48" stroke="#7E2F8E"/>
</g>
<text class="tk" transform="translate(608.80,803.17) scale(1,1.1)" text-anchor="end">-3</text>
<text class="tk" transform="translate(608.80,781.12) scale(1,1.1)" text-anchor="end">-2.5</text>
<text class="tk" transform="translate(608.80,759.07) scale(1,1.1)" text-anchor="end">-2</text>
<text class="tk" transform="translate(612.20,837.10) scale(1,1.1)" text-anchor="middle">10</text><text class="sup" transform="translate(622.60,829.70) scale(1,1.1)" text-anchor="middle">0</text>
<text class="tk" transform="translate(650.60,837.10) scale(1,1.1)" text-anchor="middle">10</text><text class="sup" transform="translate(661.00,829.70) scale(1,1.1)" text-anchor="middle">1</text>
<text class="tk" transform="translate(689.00,837.10) scale(1,1.1)" text-anchor="middle">10</text><text class="sup" transform="translate(699.40,829.70) scale(1,1.1)" text-anchor="middle">2</text>
<text class="tk" transform="translate(727.40,837.10) scale(1,1.1)" text-anchor="middle">10</text><text class="sup" transform="translate(737.80,829.70) scale(1,1.1)" text-anchor="middle">3</text>
<text class="ttl" transform="translate(674.50,724.80) scale(1,1.2)" text-anchor="middle">F20</text>
<text class="xl" transform="translate(674.20,857.90) scale(1,1.05)" text-anchor="middle">Iterations</text>
<text class="yl" transform="translate(576.40,769.25) rotate(-90)" text-anchor="middle">Best score obtained</text>
<text class="pl" x="654.50" y="878.30" text-anchor="middle">(T)</text>
</g>
<g>
<clipPath id="c20"><rect x="44.80" y="903.00" width="119.10" height="88.50"/></clipPath>
<path d="M44.80,988.50v-1.6M44.80,906.00v1.6M56.70,988.50v-0.9M56.70,906.00v0.9M63.66,988.50v-0.9M63.66,906.00v0.9M68.60,988.50v-0.9M68.60,906.00v0.9M72.43,988.50v-0.9M72.43,906.00v0.9M75.56,988.50v-0.9M75.56,906.00v0.9M78.21,988.50v-0.9M78.21,906.00v0.9M80.50,988.50v-0.9M80.50,906.00v0.9M82.52,988.50v-0.9M82.52,906.00v0.9M84.33,988.50v-1.6M84.33,906.00v1.6M96.23,988.50v-0.9M96.23,906.00v0.9M103.20,988.50v-0.9M103.20,906.00v0.9M108.13,988.50v-0.9M108.13,906.00v0.9M111.97,988.50v-0.9M111.97,906.00v0.9M115.10,988.50v-0.9M115.10,906.00v0.9M117.74,988.50v-0.9M117.74,906.00v0.9M120.04,988.50v-0.9M120.04,906.00v0.9M122.06,988.50v-0.9M122.06,906.00v0.9M123.87,988.50v-1.6M123.87,906.00v1.6M135.77,988.50v-0.9M135.77,906.00v0.9M142.73,988.50v-0.9M142.73,906.00v0.9M147.67,988.50v-0.9M147.67,906.00v0.9M151.50,988.50v-0.9M151.50,906.00v0.9M154.63,988.50v-0.9M154.63,906.00v0.9M157.28,988.50v-0.9M157.28,906.00v0.9M159.57,988.50v-0.9M159.57,906.00v0.9M161.59,988.50v-0.9M161.59,906.00v0.9M163.40,988.50v-1.6M163.40,906.00v1.6M44.80,988.50h1.6M163.40,988.50h-1.6M44.80,947.25h1.6M163.40,947.25h-1.6M44.80,906.00h1.6M163.40,906.00h-1.6" stroke="#262626" stroke-width="0.6" fill="none"/>
<rect x="44.80" y="906.00" width="118.60" height="82.50" fill="none" stroke="#262626" stroke-width="0.9"/>
<g clip-path="url(#c20)" fill="none" stroke-width="3.7" stroke-linejoin="round" stroke-linecap="butt">
<path d="M44.81,909.01C45.81,909.51 48.61,911.01 50.81,912.02C53.02,913.02 55.82,913.72 58.02,915.02C60.23,916.32 62.23,917.52 64.03,919.83C65.83,922.13 67.04,924.53 68.84,928.84C70.64,933.14 73.04,941.26 74.85,945.66C76.65,950.07 78.05,951.87 79.65,955.27C81.26,958.68 82.86,962.88 84.46,966.09C86.06,969.29 87.46,972.40 89.27,974.50C91.07,976.60 93.07,977.74 95.27,978.70C97.48,979.67 99.68,979.97 102.48,980.27C105.29,980.57 107.29,980.49 112.10,980.51C122.25,980.55 154.85,980.51 163.40,980.51" stroke="#0072BD"/>
<path d="M44.81,910.81C46.01,911.52 49.61,913.52 52.02,915.02C54.42,916.52 57.22,918.62 59.23,919.83C61.23,921.03 62.23,920.53 64.03,922.23C65.83,923.93 68.04,926.13 70.04,930.04C72.04,933.95 74.45,940.65 76.05,945.66C77.65,950.67 78.45,955.87 79.65,960.08C80.85,964.29 81.86,967.69 83.26,970.89C84.66,974.10 86.26,977.00 88.06,979.31C89.87,981.61 91.67,983.35 94.07,984.71C96.48,986.07 99.48,986.82 102.48,987.48C105.49,988.14 107.29,988.56 112.10,988.68C122.25,988.92 154.85,988.88 163.40,988.92" stroke="#D95319"/>
<path d="M44.81,912.02C46.01,912.82 49.61,915.02 52.02,916.82C54.42,918.62 57.02,919.63 59.23,922.83C61.43,926.03 63.43,931.84 65.23,936.05C67.04,940.25 68.44,944.26 70.04,948.06C71.64,951.87 73.24,955.47 74.85,958.88C76.45,962.28 78.05,965.29 79.65,968.49C81.26,971.70 82.66,975.40 84.46,978.10C86.26,980.81 87.86,983.15 90.47,984.71C93.07,986.28 96.48,986.82 100.08,987.48C103.68,988.14 106.09,988.54 112.10,988.68C122.65,988.92 154.85,988.88 163.40,988.92" stroke="#EDB120"/>
<path d="M44.81,913.22C45.81,913.92 48.81,916.02 50.81,917.42C52.82,918.83 54.82,918.93 56.82,921.63C58.83,924.33 61.03,929.64 62.83,933.64C64.63,937.65 66.03,941.46 67.64,945.66C69.24,949.87 70.64,955.27 72.44,958.88C74.25,962.48 76.85,964.49 78.45,967.29C80.05,970.09 80.85,972.90 82.06,975.70C83.26,978.50 84.06,982.01 85.66,984.11C87.26,986.21 89.27,987.52 91.67,988.32C94.07,989.12 95.87,988.88 100.08,988.92C112.04,989.02 152.85,988.92 163.40,988.92" stroke="#7E2F8E"/>
</g>
<text class="tk" transform="translate(38.20,994.50) scale(1,1.1)" text-anchor="end">-10</text>
<text class="tk" transform="translate(38.20,953.25) scale(1,1.1)" text-anchor="end">-5</text>
<text class="tk" transform="translate(38.20,912.00) scale(1,1.1)" text-anchor="end">0</text>
<text class="tk" transform="translate(41.60,1014.50) scale(1,1.1)" text-anchor="middle">10</text><text class="sup" transform="translate(52.00,1007.10) scale(1,1.1)" text-anchor="middle">0</text>
<text class="tk" transform="translate(81.13,1014.50) scale(1,1.1)" text-anchor="middle">10</text><text class="sup" transform="translate(91.53,1007.10) scale(1,1.1)" text-anchor="middle">1</text>
<text class="tk" transform="translate(120.67,1014.50) scale(1,1.1)" text-anchor="middle">10</text><text class="sup" transform="translate(131.07,1007.10) scale(1,1.1)" text-anchor="middle">2</text>
<text class="tk" transform="translate(160.20,1014.50) scale(1,1.1)" text-anchor="middle">10</text><text class="sup" transform="translate(170.60,1007.10) scale(1,1.1)" text-anchor="middle">3</text>
<text class="ttl" transform="translate(105.60,902.20) scale(1,1.2)" text-anchor="middle">F21</text>
<text class="xl" transform="translate(105.30,1035.30) scale(1,1.05)" text-anchor="middle">Iterations</text>
<text class="yl" transform="translate(9.90,946.65) rotate(-90)" text-anchor="middle">Best score obtained</text>
<text class="pl" x="87.50" y="1055.70" text-anchor="middle">(U)</text>
</g>
<g>
<clipPath id="c21"><rect x="233.90" y="903.00" width="119.00" height="88.50"/></clipPath>
<path d="M233.90,988.50v-1.6M233.90,906.00v1.6M245.79,988.50v-0.9M245.79,906.00v0.9M252.75,988.50v-0.9M252.75,906.00v0.9M257.68,988.50v-0.9M257.68,906.00v0.9M261.51,988.50v-0.9M261.51,906.00v0.9M264.64,988.50v-0.9M264.64,906.00v0.9M267.28,988.50v-0.9M267.28,906.00v0.9M269.57,988.50v-0.9M269.57,906.00v0.9M271.59,988.50v-0.9M271.59,906.00v0.9M273.40,988.50v-1.6M273.40,906.00v1.6M285.29,988.50v-0.9M285.29,906.00v0.9M292.25,988.50v-0.9M292.25,906.00v0.9M297.18,988.50v-0.9M297.18,906.00v0.9M301.01,988.50v-0.9M301.01,906.00v0.9M304.14,988.50v-0.9M304.14,906.00v0.9M306.78,988.50v-0.9M306.78,906.00v0.9M309.07,988.50v-0.9M309.07,906.00v0.9M311.09,988.50v-0.9M311.09,906.00v0.9M312.90,988.50v-1.6M312.90,906.00v1.6M324.79,988.50v-0.9M324.79,906.00v0.9M331.75,988.50v-0.9M331.75,906.00v0.9M336.68,988.50v-0.9M336.68,906.00v0.9M340.51,988.50v-0.9M340.51,906.00v0.9M343.64,988.50v-0.9M343.64,906.00v0.9M346.28,988.50v-0.9M346.28,906.00v0.9M348.57,988.50v-0.9M348.57,906.00v0.9M350.59,988.50v-0.9M350.59,906.00v0.9M352.40,988.50v-1.6M352.40,906.00v1.6M233.90,987.28h1.6M352.40,987.28h-1.6M233.90,946.64h1.6M352.40,946.64h-1.6M233.90,906.00h1.6M352.40,906.00h-1.6" stroke="#262626" stroke-width="0.6" fill="none"/>
<rect x="233.90" y="906.00" width="118.50" height="82.50" fill="none" stroke="#262626" stroke-width="0.9"/>
<g clip-path="url(#c21)" fill="none" stroke-width="3.7" stroke-linejoin="round" stroke-linecap="butt">
<path d="M233.87,910.28C234.85,910.77 237.55,912.24 239.75,913.22C241.95,914.20 244.64,914.69 247.09,916.15C249.54,917.62 251.99,919.46 254.44,922.03C256.88,924.60 259.82,928.39 261.78,931.58C263.74,934.76 264.72,936.84 266.18,941.12C267.65,945.40 268.88,952.38 270.59,957.28C272.30,962.17 274.51,967.07 276.46,970.49C278.42,973.92 280.14,975.63 282.34,977.84C284.54,980.04 286.99,982.49 289.68,983.71C292.37,984.94 295.56,984.81 298.49,985.18C301.43,985.55 303.88,985.67 307.31,985.91C310.73,986.16 315.63,986.28 319.05,986.65C322.48,987.02 323.46,987.87 327.87,988.12C333.42,988.44 348.31,988.48 352.40,988.56" stroke="#0072BD"/>
<path d="M233.87,911.01C234.85,911.50 237.79,912.85 239.75,913.95C241.71,915.05 243.42,915.54 245.62,917.62C247.83,919.70 250.27,923.50 252.97,926.44C255.66,929.37 259.58,931.58 261.78,935.25C263.98,938.92 264.47,943.32 266.18,948.46C267.90,953.60 270.10,960.95 272.06,966.09C274.02,971.23 275.98,976.00 277.93,979.31C279.89,982.61 281.60,984.45 283.81,985.91C286.01,987.38 287.48,987.98 291.15,988.12C302.58,988.56 342.19,988.48 352.40,988.56" stroke="#D95319"/>
<path d="M233.87,911.75C235.10,912.61 238.53,914.69 241.22,916.89C243.91,919.09 247.09,921.42 250.03,924.97C252.97,928.52 256.39,933.78 258.84,938.18C261.29,942.59 262.76,946.75 264.72,951.40C266.67,956.05 268.63,961.44 270.59,966.09C272.55,970.74 274.51,975.88 276.46,979.31C278.42,982.73 280.14,985.18 282.34,986.65C284.54,988.12 286.01,988.02 289.68,988.12C301.36,988.44 341.95,988.48 352.40,988.56" stroke="#EDB120"/>
<path d="M233.87,913.22C234.85,914.20 237.79,916.77 239.75,919.09C241.71,921.42 243.67,923.25 245.62,927.17C247.58,931.09 249.54,938.80 251.50,942.59C253.46,946.38 255.41,946.51 257.37,949.93C259.33,953.36 261.04,958.50 263.25,963.15C265.45,967.80 268.39,974.04 270.59,977.84C272.79,981.63 274.26,984.13 276.46,985.91C278.67,987.70 280.14,988.42 283.81,988.56C296.46,989.05 340.97,988.80 352.40,988.85" stroke="#7E2F8E"/>
</g>
<text class="tk" transform="translate(227.30,993.28) scale(1,1.1)" text-anchor="end">-10</text>
<text class="tk" transform="translate(227.30,952.64) scale(1,1.1)" text-anchor="end">-5</text>
<text class="tk" transform="translate(227.30,912.00) scale(1,1.1)" text-anchor="end">0</text>
<text class="tk" transform="translate(230.70,1014.50) scale(1,1.1)" text-anchor="middle">10</text><text class="sup" transform="translate(241.10,1007.10) scale(1,1.1)" text-anchor="middle">0</text>
<text class="tk" transform="translate(270.20,1014.50) scale(1,1.1)" text-anchor="middle">10</text><text class="sup" transform="translate(280.60,1007.10) scale(1,1.1)" text-anchor="middle">1</text>
<text class="tk" transform="translate(309.70,1014.50) scale(1,1.1)" text-anchor="middle">10</text><text class="sup" transform="translate(320.10,1007.10) scale(1,1.1)" text-anchor="middle">2</text>
<text class="tk" transform="translate(349.20,1014.50) scale(1,1.1)" text-anchor="middle">10</text><text class="sup" transform="translate(359.60,1007.10) scale(1,1.1)" text-anchor="middle">3</text>
<text class="ttl" transform="translate(294.65,902.20) scale(1,1.2)" text-anchor="middle">F22</text>
<text class="xl" transform="translate(294.35,1035.30) scale(1,1.05)" text-anchor="middle">Iterations</text>
<text class="yl" transform="translate(198.40,946.65) rotate(-90)" text-anchor="middle">Best score obtained</text>
<text class="pl" x="276.50" y="1055.70" text-anchor="middle">(V)</text>
</g>
<g>
<clipPath id="c22"><rect x="422.40" y="903.00" width="119.80" height="88.50"/></clipPath>
<path d="M422.40,988.50v-1.6M422.40,906.00v1.6M434.37,988.50v-0.9M434.37,906.00v0.9M441.37,988.50v-0.9M441.37,906.00v0.9M446.34,988.50v-0.9M446.34,906.00v0.9M450.20,988.50v-0.9M450.20,906.00v0.9M453.34,988.50v-0.9M453.34,906.00v0.9M456.01,988.50v-0.9M456.01,906.00v0.9M458.31,988.50v-0.9M458.31,906.00v0.9M460.35,988.50v-0.9M460.35,906.00v0.9M462.17,988.50v-1.6M462.17,906.00v1.6M474.14,988.50v-0.9M474.14,906.00v0.9M481.14,988.50v-0.9M481.14,906.00v0.9M486.11,988.50v-0.9M486.11,906.00v0.9M489.96,988.50v-0.9M489.96,906.00v0.9M493.11,988.50v-0.9M493.11,906.00v0.9M495.77,988.50v-0.9M495.77,906.00v0.9M498.08,988.50v-0.9M498.08,906.00v0.9M500.11,988.50v-0.9M500.11,906.00v0.9M501.93,988.50v-1.6M501.93,906.00v1.6M513.90,988.50v-0.9M513.90,906.00v0.9M520.91,988.50v-0.9M520.91,906.00v0.9M525.88,988.50v-0.9M525.88,906.00v0.9M529.73,988.50v-0.9M529.73,906.00v0.9M532.88,988.50v-0.9M532.88,906.00v0.9M535.54,988.50v-0.9M535.54,906.00v0.9M537.85,988.50v-0.9M537.85,906.00v0.9M539.88,988.50v-0.9M539.88,906.00v0.9M541.70,988.50v-1.6M541.70,906.00v1.6M422.40,985.33h1.6M541.70,985.33h-1.6M422.40,945.66h1.6M541.70,945.66h-1.6M422.40,906.00h1.6M541.70,906.00h-1.6" stroke="#262626" stroke-width="0.6" fill="none"/>
<rect x="422.40" y="906.00" width="119.30" height="82.50" fill="none" stroke="#262626" stroke-width="0.9"/>
<g clip-path="url(#c22)" fill="none" stroke-width="3.7" stroke-linejoin="round" stroke-linecap="butt">
<path d="M422.69,911.21C423.74,911.73 426.88,913.38 428.97,914.35C431.06,915.32 433.08,915.84 435.25,917.04C437.41,918.24 440.03,919.43 441.97,921.52C443.92,923.62 445.34,926.91 446.91,929.60C448.48,932.29 449.90,934.23 451.39,937.67C452.88,941.11 454.38,946.64 455.87,950.22C457.37,953.81 458.86,956.05 460.36,959.19C461.85,962.33 463.35,966.07 464.84,969.06C466.34,972.05 467.83,974.74 469.33,977.13C470.82,979.52 472.03,982.14 473.81,983.41C475.59,984.68 478.28,984.38 480.00,984.75C481.72,985.13 482.06,985.53 484.13,985.65C487.49,985.84 492.15,985.86 500.18,985.92C509.78,985.99 534.78,986.07 541.70,986.10" stroke="#0072BD"/>
<path d="M422.69,912.56C423.74,913.23 426.88,915.32 428.97,916.59C431.06,917.86 433.23,918.46 435.25,920.18C437.26,921.90 439.43,924.29 441.08,926.91C442.72,929.52 443.69,932.88 445.11,935.87C446.53,938.86 448.18,941.55 449.60,944.84C451.02,948.13 452.29,952.17 453.63,955.61C454.98,959.04 456.40,962.48 457.67,965.47C458.94,968.46 459.91,971.00 461.26,973.54C462.60,976.08 464.25,978.85 465.74,980.72C467.23,982.59 467.98,983.98 470.22,984.75C472.60,985.58 477.01,985.28 480.00,985.65C482.99,986.02 484.08,986.88 488.16,987.00C498.44,987.29 532.78,987.37 541.70,987.44" stroke="#D95319"/>
<path d="M422.69,913.00C423.74,913.68 426.88,915.77 428.97,917.04C431.06,918.31 433.15,918.98 435.25,920.63C437.34,922.27 439.73,924.36 441.52,926.91C443.32,929.45 444.51,932.88 446.01,935.87C447.50,938.86 449.00,941.55 450.49,944.84C451.99,948.13 453.63,952.17 454.98,955.61C456.32,959.04 457.37,962.48 458.57,965.47C459.76,968.46 460.81,971.00 462.15,973.54C463.50,976.08 465.14,978.85 466.64,980.72C468.13,982.59 468.89,983.93 471.12,984.75C473.35,985.58 477.16,985.28 480.00,985.65C482.84,986.02 484.08,986.88 488.16,987.00C498.44,987.29 532.78,987.37 541.70,987.44" stroke="#EDB120"/>
<path d="M422.69,915.25C423.74,915.99 426.88,918.16 428.97,919.73C431.06,921.30 433.45,922.72 435.25,924.66C437.04,926.61 438.24,928.92 439.73,931.39C441.23,933.86 442.72,936.32 444.22,939.46C445.71,942.60 447.35,947.09 448.70,950.22C450.04,953.36 451.09,954.86 452.29,958.30C453.48,961.73 454.53,967.71 455.87,970.85C457.22,973.99 458.86,975.04 460.36,977.13C461.85,979.22 463.35,981.84 464.84,983.41C466.34,984.98 467.09,985.82 469.33,986.55C471.85,987.37 476.86,987.97 480.00,988.34C483.14,988.71 484.08,988.76 488.16,988.79C498.44,988.86 532.78,988.79 541.70,988.79" stroke="#7E2F8E"/>
</g>
<text class="tk" transform="translate(415.80,991.33) scale(1,1.1)" text-anchor="end">-10</text>
<text class="tk" transform="translate(415.80,951.66) scale(1,1.1)" text-anchor="end">-5</text>
<text class="tk" transform="translate(415.80,912.00) scale(1,1.1)" text-anchor="end">0</text>
<text class="tk" transform="translate(419.20,1014.50) scale(1,1.1)" text-anchor="middle">10</text><text class="sup" transform="translate(429.60,1007.10) scale(1,1.1)" text-anchor="middle">0</text>
<text class="tk" transform="translate(458.97,1014.50) scale(1,1.1)" text-anchor="middle">10</text><text class="sup" transform="translate(469.37,1007.10) scale(1,1.1)" text-anchor="middle">1</text>
<text class="tk" transform="translate(498.73,1014.50) scale(1,1.1)" text-anchor="middle">10</text><text class="sup" transform="translate(509.13,1007.10) scale(1,1.1)" text-anchor="middle">2</text>
<text class="tk" transform="translate(538.50,1014.50) scale(1,1.1)" text-anchor="middle">10</text><text class="sup" transform="translate(548.90,1007.10) scale(1,1.1)" text-anchor="middle">3</text>
<text class="ttl" transform="translate(483.55,902.20) scale(1,1.2)" text-anchor="middle">F23</text>
<text class="xl" transform="translate(483.25,1035.30) scale(1,1.05)" text-anchor="middle">Iterations</text>
<text class="yl" transform="translate(387.40,946.65) rotate(-90)" text-anchor="middle">Best score obtained</text>
<text class="pl" x="465.50" y="1055.70" text-anchor="middle">(W)</text>
</g>

<rect x="560" y="882" width="189" height="176.8" fill="#FEE398"/>
<text class="gt" transform="translate(654.5,911.5) scale(1,1.08)" text-anchor="middle">Guide:</text>
<text class="gs" x="654.5" y="929.5" text-anchor="middle">Number of</text>
<text class="gs" x="654.5" y="947" text-anchor="middle">population members</text>
<rect x="607.7" y="969.6" width="92.8" height="74.4" fill="#fff" stroke="#333" stroke-width="1.1"/>
<path d="M613.1,980.8H669.2" stroke="#0072BD" stroke-width="4"/>
<path d="M613.1,998.7H669.2" stroke="#D95319" stroke-width="4"/>
<path d="M613.1,1015.5H669.2" stroke="#EDB120" stroke-width="4"/>
<path d="M613.1,1032.9H669.2" stroke="#7E2F8E" stroke-width="4"/>
<text class="lg" x="673.2" y="986">20</text>
<text class="lg" x="673.2" y="1003.9">30</text>
<text class="lg" x="673.2" y="1020.7">50</text>
<text class="lg" x="673.2" y="1038.1">100</text>

</svg></body></html>
